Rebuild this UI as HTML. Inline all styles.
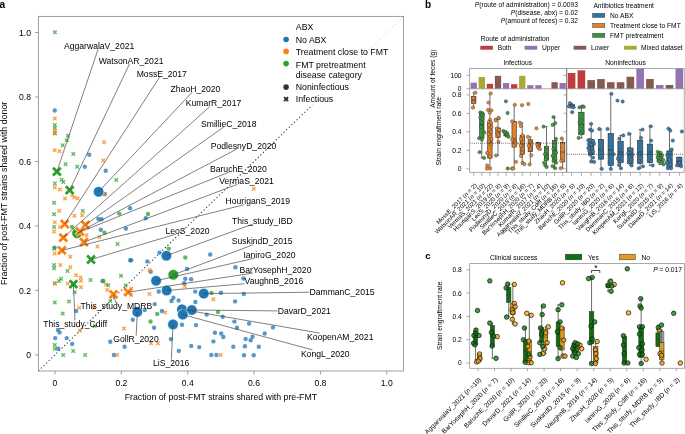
<!DOCTYPE html>
<html><head><meta charset="utf-8"><style>
html,body{margin:0;padding:0;background:#fff;width:685px;height:434px;overflow:hidden}
svg{display:block;font-family:"Liberation Sans", sans-serif}
svg{will-change:transform}
</style></head><body>
<svg width="685" height="434" viewBox="0 0 685 434">
<rect width="685" height="434" fill="#fff"/>
<text x="-0.60" y="7.50" font-size="10.1" text-anchor="start" font-weight="bold" fill="#000" >a</text>
<line x1="38.40" y1="371.00" x2="403.40" y2="16.40" stroke="#2a2a2a" stroke-width="1.05" stroke-dasharray="1.2 2.4"/>
<path d="M53.15,30.55L56.65,34.05M53.15,34.05L56.65,30.55" stroke="#2ca02c" stroke-width="1.35" stroke-opacity="0.75" fill="none"/>
<circle cx="54.80" cy="110.50" r="2.2" fill="#1f77b4" fill-opacity="0.75"/>
<path d="M53.05,116.65L56.55,120.15M53.05,120.15L56.55,116.65" stroke="#ff7f0e" stroke-width="1.35" stroke-opacity="0.75" fill="none"/>
<path d="M53.05,123.15L56.55,126.65M53.05,126.65L56.55,123.15" stroke="#2ca02c" stroke-width="1.35" stroke-opacity="0.75" fill="none"/>
<path d="M53.05,126.35L56.55,129.85M53.05,129.85L56.55,126.35" stroke="#2ca02c" stroke-width="1.35" stroke-opacity="0.75" fill="none"/>
<path d="M53.05,128.85L56.55,132.35M53.05,132.35L56.55,128.85" stroke="#ff7f0e" stroke-width="1.35" stroke-opacity="0.75" fill="none"/>
<path d="M53.05,131.75L56.55,135.25M53.05,135.25L56.55,131.75" stroke="#2ca02c" stroke-width="1.35" stroke-opacity="0.75" fill="none"/>
<path d="M53.05,131.05L56.55,134.55M53.05,134.55L56.55,131.05" stroke="#ff7f0e" stroke-width="1.35" stroke-opacity="0.75" fill="none"/>
<path d="M66.25,133.95L69.75,137.45M66.25,137.45L69.75,133.95" stroke="#2ca02c" stroke-width="1.35" stroke-opacity="0.75" fill="none"/>
<path d="M65.05,138.55L68.55,142.05M65.05,142.05L68.55,138.55" stroke="#2ca02c" stroke-width="1.35" stroke-opacity="0.75" fill="none"/>
<path d="M60.95,143.45L64.45,146.95M60.95,146.95L64.45,143.45" stroke="#2ca02c" stroke-width="1.35" stroke-opacity="0.75" fill="none"/>
<path d="M52.85,148.45L56.35,151.95M52.85,151.95L56.35,148.45" stroke="#ff7f0e" stroke-width="1.35" stroke-opacity="0.75" fill="none"/>
<path d="M57.65,149.45L61.15,152.95M57.65,152.95L61.15,149.45" stroke="#ff7f0e" stroke-width="1.35" stroke-opacity="0.75" fill="none"/>
<path d="M71.55,152.15L75.05,155.65M71.55,155.65L75.05,152.15" stroke="#2ca02c" stroke-width="1.35" stroke-opacity="0.75" fill="none"/>
<circle cx="89.20" cy="154.80" r="2.2" fill="#1f77b4" fill-opacity="0.75"/>
<path d="M102.35,140.45L105.85,143.95M102.35,143.95L105.85,140.45" stroke="#ff7f0e" stroke-width="1.35" stroke-opacity="0.75" fill="none"/>
<path d="M101.45,158.65L104.95,162.15M101.45,162.15L104.95,158.65" stroke="#ff7f0e" stroke-width="1.35" stroke-opacity="0.75" fill="none"/>
<path d="M63.85,162.55L67.35,166.05M63.85,166.05L67.35,162.55" stroke="#2ca02c" stroke-width="1.35" stroke-opacity="0.75" fill="none"/>
<path d="M75.45,165.05L78.95,168.55M75.45,168.55L78.95,165.05" stroke="#2ca02c" stroke-width="1.35" stroke-opacity="0.75" fill="none"/>
<circle cx="84.80" cy="166.80" r="2.2" fill="#1f77b4" fill-opacity="0.75"/>
<circle cx="105.70" cy="170.70" r="2.2" fill="#1f77b4" fill-opacity="0.75"/>
<path d="M114.55,178.25L118.05,181.75M114.55,181.75L118.05,178.25" stroke="#2ca02c" stroke-width="1.35" stroke-opacity="0.75" fill="none"/>
<path d="M59.95,177.95L63.45,181.45M59.95,181.45L63.45,177.95" stroke="#2ca02c" stroke-width="1.35" stroke-opacity="0.75" fill="none"/>
<path d="M61.55,180.25L65.05,183.75M61.55,183.75L65.05,180.25" stroke="#2ca02c" stroke-width="1.35" stroke-opacity="0.75" fill="none"/>
<path d="M53.05,181.65L56.55,185.15M53.05,185.15L56.55,181.65" stroke="#2ca02c" stroke-width="1.35" stroke-opacity="0.75" fill="none"/>
<path d="M53.05,185.85L56.55,189.35M53.05,189.35L56.55,185.85" stroke="#ff7f0e" stroke-width="1.35" stroke-opacity="0.75" fill="none"/>
<path d="M58.15,187.65L61.65,191.15M58.15,191.15L61.65,187.65" stroke="#ff7f0e" stroke-width="1.35" stroke-opacity="0.75" fill="none"/>
<path d="M63.25,196.85L66.75,200.35M63.25,200.35L66.75,196.85" stroke="#ff7f0e" stroke-width="1.35" stroke-opacity="0.75" fill="none"/>
<path d="M72.45,195.45L75.95,198.95M72.45,198.95L75.95,195.45" stroke="#ff7f0e" stroke-width="1.35" stroke-opacity="0.75" fill="none"/>
<path d="M75.85,196.85L79.35,200.35M75.85,200.35L79.35,196.85" stroke="#ff7f0e" stroke-width="1.35" stroke-opacity="0.75" fill="none"/>
<path d="M70.35,193.25L73.85,196.75M70.35,196.75L73.85,193.25" stroke="#ff7f0e" stroke-width="1.35" stroke-opacity="0.75" fill="none"/>
<circle cx="104.80" cy="194.00" r="2.2" fill="#1f77b4" fill-opacity="0.75"/>
<path d="M102.65,192.55L106.15,196.05M102.65,196.05L106.15,192.55" stroke="#ff7f0e" stroke-width="1.35" stroke-opacity="0.75" fill="none"/>
<path d="M81.05,209.35L84.55,212.85M81.05,212.85L84.55,209.35" stroke="#2ca02c" stroke-width="1.35" stroke-opacity="0.75" fill="none"/>
<path d="M80.45,213.55L83.95,217.05M80.45,217.05L83.95,213.55" stroke="#ff7f0e" stroke-width="1.35" stroke-opacity="0.75" fill="none"/>
<circle cx="130.10" cy="208.30" r="2.2" fill="#1f77b4" fill-opacity="0.75"/>
<circle cx="119.30" cy="213.60" r="2.2" fill="#2ca02c" fill-opacity="0.75"/>
<circle cx="148.00" cy="214.00" r="2.2" fill="#2ca02c" fill-opacity="0.75"/>
<circle cx="145.80" cy="218.20" r="2.2" fill="#1f77b4" fill-opacity="0.75"/>
<circle cx="98.40" cy="219.00" r="2.2" fill="#1f77b4" fill-opacity="0.75"/>
<circle cx="101.60" cy="219.20" r="2.2" fill="#1f77b4" fill-opacity="0.75"/>
<circle cx="100.80" cy="229.70" r="2.2" fill="#1f77b4" fill-opacity="0.75"/>
<circle cx="104.50" cy="232.80" r="2.2" fill="#2ca02c" fill-opacity="0.75"/>
<circle cx="125.90" cy="228.60" r="2.2" fill="#1f77b4" fill-opacity="0.75"/>
<path d="M97.75,235.15L101.25,238.65M97.75,238.65L101.25,235.15" stroke="#ff7f0e" stroke-width="1.35" stroke-opacity="0.75" fill="none"/>
<path d="M84.75,233.45L88.25,236.95M84.75,236.95L88.25,233.45" stroke="#ff7f0e" stroke-width="1.35" stroke-opacity="0.75" fill="none"/>
<path d="M52.35,200.95L55.85,204.45M52.35,204.45L55.85,200.95" stroke="#2ca02c" stroke-width="1.35" stroke-opacity="0.75" fill="none"/>
<path d="M57.45,208.95L60.95,212.45M57.45,212.45L60.95,208.95" stroke="#ff7f0e" stroke-width="1.35" stroke-opacity="0.75" fill="none"/>
<path d="M72.65,214.05L76.15,217.55M72.65,217.55L76.15,214.05" stroke="#ff7f0e" stroke-width="1.35" stroke-opacity="0.75" fill="none"/>
<path d="M52.35,212.45L55.85,215.95M52.35,215.95L55.85,212.45" stroke="#2ca02c" stroke-width="1.35" stroke-opacity="0.75" fill="none"/>
<path d="M53.05,220.55L56.55,224.05M53.05,224.05L56.55,220.55" stroke="#ff7f0e" stroke-width="1.35" stroke-opacity="0.75" fill="none"/>
<path d="M52.35,225.15L55.85,228.65M52.35,228.65L55.85,225.15" stroke="#2ca02c" stroke-width="1.35" stroke-opacity="0.75" fill="none"/>
<path d="M58.15,225.15L61.65,228.65M58.15,228.65L61.65,225.15" stroke="#ff7f0e" stroke-width="1.35" stroke-opacity="0.75" fill="none"/>
<path d="M52.35,229.75L55.85,233.25M52.35,233.25L55.85,229.75" stroke="#ff7f0e" stroke-width="1.35" stroke-opacity="0.75" fill="none"/>
<circle cx="72.10" cy="226.90" r="2.2" fill="#2ca02c" fill-opacity="0.75"/>
<circle cx="54.60" cy="247.60" r="2.2" fill="#1f77b4" fill-opacity="0.75"/>
<path d="M52.35,247.05L55.85,250.55M52.35,250.55L55.85,247.05" stroke="#2ca02c" stroke-width="1.35" stroke-opacity="0.75" fill="none"/>
<path d="M52.85,251.65L56.35,255.15M52.85,255.15L56.35,251.65" stroke="#ff7f0e" stroke-width="1.35" stroke-opacity="0.75" fill="none"/>
<path d="M68.55,255.05L72.05,258.55M68.55,258.55L72.05,255.05" stroke="#ff7f0e" stroke-width="1.35" stroke-opacity="0.75" fill="none"/>
<path d="M115.75,242.35L119.25,245.85M115.75,245.85L119.25,242.35" stroke="#2ca02c" stroke-width="1.35" stroke-opacity="0.75" fill="none"/>
<path d="M95.65,244.75L99.15,248.25M95.65,248.25L99.15,244.75" stroke="#ff7f0e" stroke-width="1.35" stroke-opacity="0.75" fill="none"/>
<circle cx="130.20" cy="260.30" r="2.2" fill="#1f77b4" fill-opacity="0.75"/>
<path d="M52.35,263.15L55.85,266.65M52.35,266.65L55.85,263.15" stroke="#2ca02c" stroke-width="1.35" stroke-opacity="0.75" fill="none"/>
<path d="M52.35,266.55L55.85,270.05M52.35,270.05L55.85,266.55" stroke="#2ca02c" stroke-width="1.35" stroke-opacity="0.75" fill="none"/>
<path d="M58.65,263.15L62.15,266.65M58.65,266.65L62.15,263.15" stroke="#ff7f0e" stroke-width="1.35" stroke-opacity="0.75" fill="none"/>
<path d="M65.75,269.35L69.25,272.85M65.75,272.85L69.25,269.35" stroke="#2ca02c" stroke-width="1.35" stroke-opacity="0.75" fill="none"/>
<path d="M68.55,265.45L72.05,268.95M68.55,268.95L72.05,265.45" stroke="#ff7f0e" stroke-width="1.35" stroke-opacity="0.75" fill="none"/>
<path d="M53.05,281.55L56.55,285.05M53.05,285.05L56.55,281.55" stroke="#2ca02c" stroke-width="1.35" stroke-opacity="0.75" fill="none"/>
<path d="M59.25,276.95L62.75,280.45M59.25,280.45L62.75,276.95" stroke="#2ca02c" stroke-width="1.35" stroke-opacity="0.75" fill="none"/>
<path d="M74.25,273.55L77.75,277.05M74.25,277.05L77.75,273.55" stroke="#ff7f0e" stroke-width="1.35" stroke-opacity="0.75" fill="none"/>
<path d="M78.85,275.85L82.35,279.35M78.85,279.35L82.35,275.85" stroke="#ff7f0e" stroke-width="1.35" stroke-opacity="0.75" fill="none"/>
<path d="M88.75,278.15L92.25,281.65M88.75,281.65L92.25,278.15" stroke="#2ca02c" stroke-width="1.35" stroke-opacity="0.75" fill="none"/>
<circle cx="102.50" cy="281.00" r="2.2" fill="#1f77b4" fill-opacity="0.75"/>
<path d="M104.25,282.75L107.75,286.25M104.25,286.25L107.75,282.75" stroke="#ff7f0e" stroke-width="1.35" stroke-opacity="0.75" fill="none"/>
<path d="M119.25,273.95L122.75,277.45M119.25,277.45L122.75,273.95" stroke="#2ca02c" stroke-width="1.35" stroke-opacity="0.75" fill="none"/>
<path d="M123.85,283.85L127.35,287.35M123.85,287.35L127.35,283.85" stroke="#2ca02c" stroke-width="1.35" stroke-opacity="0.75" fill="none"/>
<path d="M53.05,281.85L56.55,285.35M53.05,285.35L56.55,281.85" stroke="#ff7f0e" stroke-width="1.35" stroke-opacity="0.75" fill="none"/>
<path d="M57.25,279.25L60.75,282.75M57.25,282.75L60.75,279.25" stroke="#2ca02c" stroke-width="1.35" stroke-opacity="0.75" fill="none"/>
<path d="M66.05,281.85L69.55,285.35M66.05,285.35L69.55,281.85" stroke="#ff7f0e" stroke-width="1.35" stroke-opacity="0.75" fill="none"/>
<path d="M79.25,279.25L82.75,282.75M79.25,282.75L82.75,279.25" stroke="#ff7f0e" stroke-width="1.35" stroke-opacity="0.75" fill="none"/>
<path d="M79.25,285.55L82.75,289.05M79.25,289.05L82.75,285.55" stroke="#ff7f0e" stroke-width="1.35" stroke-opacity="0.75" fill="none"/>
<circle cx="103.40" cy="281.00" r="2.2" fill="#2ca02c" fill-opacity="0.75"/>
<path d="M106.45,283.45L109.95,286.95M106.45,286.95L109.95,283.45" stroke="#2ca02c" stroke-width="1.35" stroke-opacity="0.75" fill="none"/>
<path d="M105.45,288.25L108.95,291.75M105.45,291.75L108.95,288.25" stroke="#ff7f0e" stroke-width="1.35" stroke-opacity="0.75" fill="none"/>
<path d="M53.05,300.65L56.55,304.15M53.05,304.15L56.55,300.65" stroke="#2ca02c" stroke-width="1.35" stroke-opacity="0.75" fill="none"/>
<path d="M67.25,299.65L70.75,303.15M67.25,303.15L70.75,299.65" stroke="#2ca02c" stroke-width="1.35" stroke-opacity="0.75" fill="none"/>
<path d="M72.95,290.45L76.45,293.95M72.95,293.95L76.45,290.45" stroke="#2ca02c" stroke-width="1.35" stroke-opacity="0.75" fill="none"/>
<path d="M60.95,311.75L64.45,315.25M60.95,315.25L64.45,311.75" stroke="#2ca02c" stroke-width="1.35" stroke-opacity="0.75" fill="none"/>
<circle cx="76.20" cy="311.00" r="2.2" fill="#1f77b4" fill-opacity="0.75"/>
<path d="M77.35,305.95L80.85,309.45M77.35,309.45L80.85,305.95" stroke="#ff7f0e" stroke-width="1.35" stroke-opacity="0.75" fill="none"/>
<path d="M91.85,305.95L95.35,309.45M91.85,309.45L95.35,305.95" stroke="#ff7f0e" stroke-width="1.35" stroke-opacity="0.75" fill="none"/>
<path d="M108.55,299.25L112.05,302.75M108.55,302.75L112.05,299.25" stroke="#2ca02c" stroke-width="1.35" stroke-opacity="0.75" fill="none"/>
<circle cx="132.80" cy="319.80" r="2.2" fill="#1f77b4" fill-opacity="0.75"/>
<path d="M122.25,326.85L125.75,330.35M122.25,330.35L125.75,326.85" stroke="#ff7f0e" stroke-width="1.35" stroke-opacity="0.75" fill="none"/>
<circle cx="57.90" cy="329.90" r="2.2" fill="#1f77b4" fill-opacity="0.75"/>
<circle cx="59.60" cy="332.40" r="2.2" fill="#1f77b4" fill-opacity="0.75"/>
<path d="M78.15,328.95L81.65,332.45M78.15,332.45L81.65,328.95" stroke="#ff7f0e" stroke-width="1.35" stroke-opacity="0.75" fill="none"/>
<path d="M92.85,324.35L96.35,327.85M92.85,327.85L96.35,324.35" stroke="#2ca02c" stroke-width="1.35" stroke-opacity="0.75" fill="none"/>
<circle cx="55.20" cy="338.10" r="2.2" fill="#1f77b4" fill-opacity="0.75"/>
<circle cx="66.70" cy="338.10" r="2.2" fill="#1f77b4" fill-opacity="0.75"/>
<circle cx="72.20" cy="343.90" r="2.2" fill="#1f77b4" fill-opacity="0.75"/>
<path d="M53.05,343.25L56.55,346.75M53.05,346.75L56.55,343.25" stroke="#2ca02c" stroke-width="1.35" stroke-opacity="0.75" fill="none"/>
<path d="M53.05,347.05L56.55,350.55M53.05,350.55L56.55,347.05" stroke="#2ca02c" stroke-width="1.35" stroke-opacity="0.75" fill="none"/>
<circle cx="58.30" cy="348.80" r="2.2" fill="#1f77b4" fill-opacity="0.75"/>
<circle cx="110.30" cy="341.80" r="2.2" fill="#1f77b4" fill-opacity="0.75"/>
<circle cx="124.60" cy="346.70" r="2.2" fill="#1f77b4" fill-opacity="0.75"/>
<path d="M71.45,349.15L74.95,352.65M71.45,352.65L74.95,349.15" stroke="#2ca02c" stroke-width="1.35" stroke-opacity="0.75" fill="none"/>
<path d="M61.45,353.25L64.95,356.75M61.45,356.75L64.95,353.25" stroke="#2ca02c" stroke-width="1.35" stroke-opacity="0.75" fill="none"/>
<path d="M83.45,353.25L86.95,356.75M83.45,356.75L86.95,353.25" stroke="#2ca02c" stroke-width="1.35" stroke-opacity="0.75" fill="none"/>
<circle cx="113.90" cy="355.00" r="2.2" fill="#1f77b4" fill-opacity="0.75"/>
<path d="M115.45,353.25L118.95,356.75M115.45,356.75L118.95,353.25" stroke="#ff7f0e" stroke-width="1.35" stroke-opacity="0.75" fill="none"/>
<circle cx="168.70" cy="248.80" r="2.2" fill="#2ca02c" fill-opacity="0.75"/>
<circle cx="159.50" cy="252.70" r="2.2" fill="#1f77b4" fill-opacity="0.75"/>
<circle cx="147.30" cy="261.40" r="2.2" fill="#1f77b4" fill-opacity="0.75"/>
<circle cx="131.20" cy="260.30" r="2.2" fill="#1f77b4" fill-opacity="0.75"/>
<circle cx="185.30" cy="257.50" r="2.2" fill="#2ca02c" fill-opacity="0.75"/>
<circle cx="210.20" cy="254.50" r="2.2" fill="#1f77b4" fill-opacity="0.75"/>
<circle cx="150.70" cy="271.80" r="2.2" fill="#1f77b4" fill-opacity="0.75"/>
<path d="M147.85,268.45L151.35,271.95M147.85,271.95L151.35,268.45" stroke="#ff7f0e" stroke-width="1.35" stroke-opacity="0.75" fill="none"/>
<circle cx="187.10" cy="269.00" r="2.2" fill="#1f77b4" fill-opacity="0.75"/>
<circle cx="185.30" cy="278.70" r="2.2" fill="#1f77b4" fill-opacity="0.75"/>
<circle cx="191.10" cy="279.20" r="2.2" fill="#1f77b4" fill-opacity="0.75"/>
<circle cx="184.10" cy="283.30" r="2.2" fill="#1f77b4" fill-opacity="0.75"/>
<path d="M183.05,284.55L186.55,288.05M183.05,288.05L186.55,284.55" stroke="#ff7f0e" stroke-width="1.35" stroke-opacity="0.75" fill="none"/>
<path d="M129.45,286.85L132.95,290.35M129.45,290.35L132.95,286.85" stroke="#ff7f0e" stroke-width="1.35" stroke-opacity="0.75" fill="none"/>
<circle cx="235.40" cy="267.30" r="2.2" fill="#1f77b4" fill-opacity="0.75"/>
<circle cx="243.50" cy="278.50" r="2.2" fill="#1f77b4" fill-opacity="0.75"/>
<circle cx="211.50" cy="293.00" r="2.2" fill="#2ca02c" fill-opacity="0.75"/>
<circle cx="195.20" cy="291.60" r="2.2" fill="#1f77b4" fill-opacity="0.75"/>
<circle cx="220.90" cy="292.70" r="2.2" fill="#1f77b4" fill-opacity="0.75"/>
<circle cx="243.80" cy="293.90" r="2.2" fill="#1f77b4" fill-opacity="0.75"/>
<path d="M129.25,292.95L132.75,296.45M129.25,296.45L132.75,292.95" stroke="#ff7f0e" stroke-width="1.35" stroke-opacity="0.75" fill="none"/>
<path d="M147.75,292.25L151.25,295.75M147.75,295.75L151.25,292.25" stroke="#ff7f0e" stroke-width="1.35" stroke-opacity="0.75" fill="none"/>
<circle cx="158.70" cy="291.50" r="2.2" fill="#1f77b4" fill-opacity="0.75"/>
<circle cx="173.40" cy="297.80" r="2.2" fill="#1f77b4" fill-opacity="0.75"/>
<circle cx="171.50" cy="301.00" r="2.2" fill="#1f77b4" fill-opacity="0.75"/>
<circle cx="178.60" cy="300.50" r="2.2" fill="#1f77b4" fill-opacity="0.75"/>
<path d="M211.65,297.55L215.15,301.05M211.65,301.05L215.15,297.55" stroke="#ff7f0e" stroke-width="1.35" stroke-opacity="0.75" fill="none"/>
<circle cx="195.40" cy="302.00" r="2.2" fill="#1f77b4" fill-opacity="0.75"/>
<circle cx="154.70" cy="304.10" r="2.2" fill="#1f77b4" fill-opacity="0.75"/>
<circle cx="144.70" cy="310.00" r="2.2" fill="#1f77b4" fill-opacity="0.75"/>
<path d="M163.45,310.75L166.95,314.25M163.45,314.25L166.95,310.75" stroke="#ff7f0e" stroke-width="1.35" stroke-opacity="0.75" fill="none"/>
<circle cx="161.90" cy="311.00" r="2.2" fill="#1f77b4" fill-opacity="0.75"/>
<circle cx="157.30" cy="314.00" r="2.2" fill="#2ca02c" fill-opacity="0.75"/>
<circle cx="150.50" cy="321.50" r="2.2" fill="#2ca02c" fill-opacity="0.75"/>
<circle cx="154.10" cy="327.80" r="2.2" fill="#1f77b4" fill-opacity="0.75"/>
<circle cx="182.00" cy="324.70" r="2.2" fill="#1f77b4" fill-opacity="0.75"/>
<circle cx="196.00" cy="325.10" r="2.2" fill="#1f77b4" fill-opacity="0.75"/>
<circle cx="206.70" cy="314.60" r="2.2" fill="#1f77b4" fill-opacity="0.75"/>
<circle cx="218.00" cy="311.90" r="2.2" fill="#2ca02c" fill-opacity="0.75"/>
<circle cx="222.70" cy="316.70" r="2.2" fill="#1f77b4" fill-opacity="0.75"/>
<circle cx="170.90" cy="339.10" r="2.2" fill="#1f77b4" fill-opacity="0.75"/>
<path d="M149.25,341.55L152.75,345.05M149.25,345.05L152.75,341.55" stroke="#ff7f0e" stroke-width="1.35" stroke-opacity="0.75" fill="none"/>
<path d="M156.15,341.55L159.65,345.05M156.15,345.05L159.65,341.55" stroke="#ff7f0e" stroke-width="1.35" stroke-opacity="0.75" fill="none"/>
<circle cx="191.20" cy="346.00" r="2.2" fill="#1f77b4" fill-opacity="0.75"/>
<circle cx="199.20" cy="347.10" r="2.2" fill="#1f77b4" fill-opacity="0.75"/>
<circle cx="178.80" cy="350.90" r="2.2" fill="#1f77b4" fill-opacity="0.75"/>
<circle cx="214.90" cy="332.80" r="2.2" fill="#1f77b4" fill-opacity="0.75"/>
<circle cx="221.20" cy="333.50" r="2.2" fill="#1f77b4" fill-opacity="0.75"/>
<circle cx="223.30" cy="337.00" r="2.2" fill="#1f77b4" fill-opacity="0.75"/>
<circle cx="213.40" cy="341.40" r="2.2" fill="#1f77b4" fill-opacity="0.75"/>
<circle cx="211.30" cy="355.00" r="2.2" fill="#1f77b4" fill-opacity="0.75"/>
<circle cx="216.40" cy="355.00" r="2.2" fill="#1f77b4" fill-opacity="0.75"/>
<path d="M218.85,353.25L222.35,356.75M218.85,356.75L222.35,353.25" stroke="#ff7f0e" stroke-width="1.35" stroke-opacity="0.75" fill="none"/>
<circle cx="235.10" cy="301.40" r="2.2" fill="#1f77b4" fill-opacity="0.75"/>
<circle cx="234.40" cy="321.60" r="2.2" fill="#1f77b4" fill-opacity="0.75"/>
<circle cx="237.00" cy="327.70" r="2.2" fill="#1f77b4" fill-opacity="0.75"/>
<circle cx="249.10" cy="323.50" r="2.2" fill="#1f77b4" fill-opacity="0.75"/>
<circle cx="273.00" cy="327.40" r="2.2" fill="#1f77b4" fill-opacity="0.75"/>
<circle cx="245.60" cy="339.00" r="2.2" fill="#1f77b4" fill-opacity="0.75"/>
<circle cx="250.70" cy="340.20" r="2.2" fill="#1f77b4" fill-opacity="0.75"/>
<circle cx="252.60" cy="336.70" r="2.2" fill="#1f77b4" fill-opacity="0.75"/>
<circle cx="264.70" cy="333.50" r="2.2" fill="#1f77b4" fill-opacity="0.75"/>
<circle cx="233.30" cy="346.70" r="2.2" fill="#1f77b4" fill-opacity="0.75"/>
<circle cx="244.90" cy="346.30" r="2.2" fill="#1f77b4" fill-opacity="0.75"/>
<circle cx="258.80" cy="346.70" r="2.2" fill="#1f77b4" fill-opacity="0.75"/>
<circle cx="244.00" cy="355.30" r="2.2" fill="#1f77b4" fill-opacity="0.75"/>
<circle cx="253.70" cy="355.30" r="2.2" fill="#1f77b4" fill-opacity="0.75"/>
<path d="M252.05,186.95L255.55,190.45M252.05,190.45L255.55,186.95" stroke="#ff7f0e" stroke-width="1.35" stroke-opacity="0.75" fill="none"/>
<circle cx="77.1" cy="233.2" r="5.3" fill="#2ca02c" stroke="#fff" stroke-width="0.6"/>
<path d="M53.00,167.70L60.80,175.50M53.00,175.50L60.80,167.70" stroke="#fff" stroke-width="3.8" fill="none"/>
<path d="M53.00,167.70L60.80,175.50M53.00,175.50L60.80,167.70" stroke="#2ca02c" stroke-width="2.8" fill="none"/>
<path d="M65.80,186.20L73.60,194.00M65.80,194.00L73.60,186.20" stroke="#fff" stroke-width="3.8" fill="none"/>
<path d="M65.80,186.20L73.60,194.00M65.80,194.00L73.60,186.20" stroke="#2ca02c" stroke-width="2.8" fill="none"/>
<circle cx="98.6" cy="191.8" r="5.3" fill="#1f77b4" stroke="#fff" stroke-width="0.6"/>
<path d="M60.80,220.10L68.60,227.90M60.80,227.90L68.60,220.10" stroke="#fff" stroke-width="3.8" fill="none"/>
<path d="M60.80,220.10L68.60,227.90M60.80,227.90L68.60,220.10" stroke="#ff7f0e" stroke-width="2.8" fill="none"/>
<path d="M81.50,221.00L89.30,228.80M81.50,228.80L89.30,221.00" stroke="#fff" stroke-width="3.8" fill="none"/>
<path d="M81.50,221.00L89.30,228.80M81.50,228.80L89.30,221.00" stroke="#ff7f0e" stroke-width="2.8" fill="none"/>
<path d="M76.00,227.60L83.80,235.40M76.00,235.40L83.80,227.60" stroke="#fff" stroke-width="3.8" fill="none"/>
<path d="M76.00,227.60L83.80,235.40M76.00,235.40L83.80,227.60" stroke="#ff7f0e" stroke-width="2.8" fill="none"/>
<path d="M59.40,233.70L67.20,241.50M59.40,241.50L67.20,233.70" stroke="#fff" stroke-width="3.8" fill="none"/>
<path d="M59.40,233.70L67.20,241.50M59.40,241.50L67.20,233.70" stroke="#ff7f0e" stroke-width="2.8" fill="none"/>
<path d="M80.10,238.20L87.90,246.00M80.10,246.00L87.90,238.20" stroke="#fff" stroke-width="3.8" fill="none"/>
<path d="M80.10,238.20L87.90,246.00M80.10,246.00L87.90,238.20" stroke="#ff7f0e" stroke-width="2.8" fill="none"/>
<path d="M58.00,246.50L65.80,254.30M58.00,254.30L65.80,246.50" stroke="#fff" stroke-width="3.8" fill="none"/>
<path d="M58.00,246.50L65.80,254.30M58.00,254.30L65.80,246.50" stroke="#ff7f0e" stroke-width="2.8" fill="none"/>
<path d="M87.10,255.60L94.90,263.40M87.10,263.40L94.90,255.60" stroke="#fff" stroke-width="3.8" fill="none"/>
<path d="M87.10,255.60L94.90,263.40M87.10,263.40L94.90,255.60" stroke="#2ca02c" stroke-width="2.8" fill="none"/>
<path d="M69.50,280.30L77.30,288.10M69.50,288.10L77.30,280.30" stroke="#fff" stroke-width="3.8" fill="none"/>
<path d="M69.50,280.30L77.30,288.10M69.50,288.10L77.30,280.30" stroke="#2ca02c" stroke-width="2.8" fill="none"/>
<path d="M109.60,290.40L117.40,298.20M109.60,298.20L117.40,290.40" stroke="#fff" stroke-width="3.8" fill="none"/>
<path d="M109.60,290.40L117.40,298.20M109.60,298.20L117.40,290.40" stroke="#ff7f0e" stroke-width="2.8" fill="none"/>
<path d="M124.20,288.30L132.00,296.10M124.20,296.10L132.00,288.30" stroke="#fff" stroke-width="3.8" fill="none"/>
<path d="M124.20,288.30L132.00,296.10M124.20,296.10L132.00,288.30" stroke="#ff7f0e" stroke-width="2.8" fill="none"/>
<circle cx="173.3" cy="274.8" r="5.3" fill="#2ca02c" stroke="#fff" stroke-width="0.6"/>
<circle cx="166.4" cy="255.7" r="5.3" fill="#1f77b4" stroke="#fff" stroke-width="0.6"/>
<circle cx="156.1" cy="280.8" r="5.3" fill="#1f77b4" stroke="#fff" stroke-width="0.6"/>
<circle cx="166.7" cy="290.5" r="5.3" fill="#1f77b4" stroke="#fff" stroke-width="0.6"/>
<circle cx="203.8" cy="293.6" r="5.3" fill="#1f77b4" stroke="#fff" stroke-width="0.6"/>
<circle cx="137.3" cy="311.9" r="5.3" fill="#1f77b4" stroke="#fff" stroke-width="0.6"/>
<circle cx="182.0" cy="309.4" r="5.3" fill="#1f77b4" stroke="#fff" stroke-width="0.6"/>
<circle cx="191.8" cy="310.0" r="5.3" fill="#1f77b4" stroke="#fff" stroke-width="0.6"/>
<circle cx="182.8" cy="314.6" r="5.3" fill="#1f77b4" stroke="#fff" stroke-width="0.6"/>
<circle cx="173.0" cy="324.4" r="5.3" fill="#1f77b4" stroke="#fff" stroke-width="0.6"/>
<line x1="97.96" y1="49.50" x2="56.90" y2="171.60" stroke="#444" stroke-width="0.68" />
<line x1="129.49" y1="63.90" x2="69.70" y2="190.10" stroke="#444" stroke-width="0.68" />
<line x1="159.54" y1="77.20" x2="64.70" y2="224.00" stroke="#444" stroke-width="0.68" />
<line x1="192.18" y1="92.10" x2="98.60" y2="191.80" stroke="#444" stroke-width="0.68" />
<line x1="209.61" y1="106.80" x2="63.30" y2="237.60" stroke="#444" stroke-width="0.68" />
<line x1="223.78" y1="127.00" x2="85.40" y2="224.90" stroke="#444" stroke-width="0.68" />
<line x1="236.89" y1="149.00" x2="79.90" y2="231.50" stroke="#444" stroke-width="0.68" />
<line x1="229.73" y1="171.90" x2="77.10" y2="233.20" stroke="#444" stroke-width="0.68" />
<line x1="237.26" y1="184.40" x2="84.00" y2="242.10" stroke="#444" stroke-width="0.68" />
<line x1="243.90" y1="204.80" x2="61.90" y2="250.40" stroke="#444" stroke-width="0.68" />
<line x1="252.78" y1="224.10" x2="166.40" y2="255.70" stroke="#444" stroke-width="0.68" />
<line x1="175.77" y1="234.20" x2="91.00" y2="259.50" stroke="#444" stroke-width="0.68" />
<line x1="252.87" y1="244.80" x2="173.30" y2="274.80" stroke="#444" stroke-width="0.68" />
<line x1="254.20" y1="258.30" x2="156.10" y2="280.80" stroke="#444" stroke-width="0.68" />
<line x1="252.71" y1="273.10" x2="128.10" y2="292.20" stroke="#444" stroke-width="0.68" />
<line x1="244.40" y1="283.76" x2="166.70" y2="290.50" stroke="#444" stroke-width="0.68" />
<line x1="309.30" y1="292.23" x2="203.80" y2="293.60" stroke="#444" stroke-width="0.68" />
<line x1="115.55" y1="302.30" x2="113.50" y2="294.30" stroke="#444" stroke-width="0.68" />
<line x1="277.50" y1="310.91" x2="191.80" y2="310.00" stroke="#444" stroke-width="0.68" />
<line x1="74.99" y1="320.50" x2="73.40" y2="284.20" stroke="#444" stroke-width="0.68" />
<line x1="319.87" y1="333.10" x2="182.00" y2="309.40" stroke="#444" stroke-width="0.68" />
<line x1="136.17" y1="335.80" x2="137.30" y2="311.90" stroke="#444" stroke-width="0.68" />
<line x1="312.44" y1="349.90" x2="182.80" y2="314.60" stroke="#444" stroke-width="0.68" />
<line x1="171.34" y1="359.70" x2="173.00" y2="324.40" stroke="#444" stroke-width="0.68" />
<text x="64.00" y="49.10" font-size="8.6" text-anchor="start" fill="#000" >AggarwalaV_2021</text>
<text x="98.80" y="63.50" font-size="8.6" text-anchor="start" fill="#000" >WatsonAR_2021</text>
<text x="136.70" y="76.80" font-size="8.6" text-anchor="start" fill="#000" >MossE_2017</text>
<text x="170.60" y="91.70" font-size="8.6" text-anchor="start" fill="#000" >ZhaoH_2020</text>
<text x="185.80" y="106.40" font-size="8.6" text-anchor="start" fill="#000" >KumarR_2017</text>
<text x="201.00" y="126.60" font-size="8.6" text-anchor="start" fill="#000" >SmillieC_2018</text>
<text x="210.80" y="148.60" font-size="8.6" text-anchor="start" fill="#000" >PodlesnyD_2020</text>
<text x="210.00" y="171.50" font-size="8.6" text-anchor="start" fill="#000" >BaruchE_2020</text>
<text x="219.30" y="184.00" font-size="8.6" text-anchor="start" fill="#000" >VermaS_2021</text>
<text x="225.60" y="204.40" font-size="8.6" text-anchor="start" fill="#000" >HouriganS_2019</text>
<text x="232.00" y="223.70" font-size="8.6" text-anchor="start" fill="#000" >This_study_IBD</text>
<text x="165.50" y="233.80" font-size="8.6" text-anchor="start" fill="#000" >LeoS_2020</text>
<text x="231.80" y="244.40" font-size="8.6" text-anchor="start" fill="#000" >SuskindD_2015</text>
<text x="243.40" y="257.90" font-size="8.6" text-anchor="start" fill="#000" >IaniroG_2020</text>
<text x="239.60" y="272.70" font-size="8.6" text-anchor="start" fill="#000" >BarYosephH_2020</text>
<text x="244.60" y="284.30" font-size="8.6" text-anchor="start" fill="#000" >VaughnB_2016</text>
<text x="309.50" y="294.90" font-size="8.6" text-anchor="start" fill="#000" >DammanC_2015</text>
<text x="80.60" y="308.90" font-size="8.6" text-anchor="start" fill="#000" >This_study_MDRB</text>
<text x="277.70" y="314.30" font-size="8.6" text-anchor="start" fill="#000" >DavarD_2021</text>
<text x="43.20" y="327.10" font-size="8.6" text-anchor="start" fill="#000" >This_study_Cdiff</text>
<text x="307.00" y="339.70" font-size="8.6" text-anchor="start" fill="#000" >KoopenAM_2021</text>
<text x="113.30" y="342.40" font-size="8.6" text-anchor="start" fill="#000" >GollR_2020</text>
<text x="300.90" y="356.50" font-size="8.6" text-anchor="start" fill="#000" >KongL_2020</text>
<text x="153.00" y="366.30" font-size="8.6" text-anchor="start" fill="#000" >LiS_2016</text>
<rect x="38.4" y="16.4" width="365.0" height="354.6" fill="none" stroke="#959595" stroke-width="0.9"/>
<line x1="35.00" y1="354.90" x2="38.40" y2="354.90" stroke="#959595" stroke-width="0.9" />
<text x="31.00" y="358.00" font-size="8.6" text-anchor="end" fill="#000" >0</text>
<line x1="55.00" y1="371.00" x2="55.00" y2="374.50" stroke="#959595" stroke-width="0.9" />
<text x="55.00" y="385.90" font-size="8.6" text-anchor="middle" fill="#000" >0</text>
<line x1="35.00" y1="290.42" x2="38.40" y2="290.42" stroke="#959595" stroke-width="0.9" />
<text x="31.00" y="293.52" font-size="8.6" text-anchor="end" fill="#000" >0.2</text>
<line x1="121.36" y1="371.00" x2="121.36" y2="374.50" stroke="#959595" stroke-width="0.9" />
<text x="121.36" y="385.90" font-size="8.6" text-anchor="middle" fill="#000" >0.2</text>
<line x1="35.00" y1="225.94" x2="38.40" y2="225.94" stroke="#959595" stroke-width="0.9" />
<text x="31.00" y="229.04" font-size="8.6" text-anchor="end" fill="#000" >0.4</text>
<line x1="187.72" y1="371.00" x2="187.72" y2="374.50" stroke="#959595" stroke-width="0.9" />
<text x="187.72" y="385.90" font-size="8.6" text-anchor="middle" fill="#000" >0.4</text>
<line x1="35.00" y1="161.46" x2="38.40" y2="161.46" stroke="#959595" stroke-width="0.9" />
<text x="31.00" y="164.56" font-size="8.6" text-anchor="end" fill="#000" >0.6</text>
<line x1="254.08" y1="371.00" x2="254.08" y2="374.50" stroke="#959595" stroke-width="0.9" />
<text x="254.08" y="385.90" font-size="8.6" text-anchor="middle" fill="#000" >0.6</text>
<line x1="35.00" y1="96.98" x2="38.40" y2="96.98" stroke="#959595" stroke-width="0.9" />
<text x="31.00" y="100.08" font-size="8.6" text-anchor="end" fill="#000" >0.8</text>
<line x1="320.44" y1="371.00" x2="320.44" y2="374.50" stroke="#959595" stroke-width="0.9" />
<text x="320.44" y="385.90" font-size="8.6" text-anchor="middle" fill="#000" >0.8</text>
<line x1="35.00" y1="32.50" x2="38.40" y2="32.50" stroke="#959595" stroke-width="0.9" />
<text x="31.00" y="35.60" font-size="8.6" text-anchor="end" fill="#000" >1.0</text>
<line x1="386.80" y1="371.00" x2="386.80" y2="374.50" stroke="#959595" stroke-width="0.9" />
<text x="386.80" y="385.90" font-size="8.6" text-anchor="middle" fill="#000" >1.0</text>
<text x="220.90" y="400.00" font-size="8.75" text-anchor="middle" fill="#000" >Fraction of post-FMT strains shared with pre-FMT</text>
<text transform="translate(7.0,193.3) rotate(-90)" font-size="8.85" text-anchor="middle">Fraction of post-FMT strains shared with donor</text>
<rect x="279" y="17.2" width="123.8" height="89" fill="#fff" fill-opacity="0.85"/>
<text x="295.80" y="29.90" font-size="8.75" text-anchor="start" fill="#000" >ABX</text>
<circle cx="286.10" cy="39.50" r="2.8" fill="#1f77b4"/>
<text x="295.80" y="42.60" font-size="8.75" text-anchor="start" fill="#000" >No ABX</text>
<circle cx="286.10" cy="51.40" r="2.8" fill="#ff7f0e"/>
<text x="295.80" y="54.50" font-size="8.75" text-anchor="start" fill="#000" >Treatment close to FMT</text>
<circle cx="286.10" cy="63.60" r="2.8" fill="#2ca02c"/>
<text x="295.80" y="67.90" font-size="8.75" text-anchor="start" fill="#000" >FMT pretreatment</text>
<text x="295.80" y="78.10" font-size="8.75" text-anchor="start" fill="#000" >disease category</text>
<circle cx="286.10" cy="87.10" r="2.8" fill="#333"/>
<text x="295.80" y="90.20" font-size="8.75" text-anchor="start" fill="#000" >Noninfectious</text>
<path d="M284.10,97.10L288.10,101.10M284.10,101.10L288.10,97.10" stroke="#2a2a2a" stroke-width="1.9" fill="none"/>
<text x="295.80" y="102.20" font-size="8.75" text-anchor="start" fill="#000" >Infectious</text>
<text x="425.10" y="7.60" font-size="10.1" text-anchor="start" font-weight="bold" fill="#000" >b</text>
<text x="577.9" y="6.9" font-size="6.7" text-anchor="end"><tspan font-style="italic">P</tspan>(route of administration) = 0.0093</text>
<text x="577.9" y="15.3" font-size="6.7" text-anchor="end"><tspan font-style="italic">P</tspan>(disease, abx) = 0.02</text>
<text x="577.9" y="23.2" font-size="6.7" text-anchor="end"><tspan font-style="italic">P</tspan>(amount of feces) = 0.32</text>
<text x="593.40" y="7.50" font-size="6.7" text-anchor="start" fill="#000" >Antibiotics treatment</text>
<rect x="592.6" y="13.3" width="12.2" height="4.1" fill="#3274a1" stroke="#3f3f3f" stroke-width="0.5"/>
<text x="610.00" y="17.70" font-size="6.7" text-anchor="start" fill="#000" >No ABX</text>
<rect x="592.6" y="23.4" width="12.2" height="4.1" fill="#e1812c" stroke="#3f3f3f" stroke-width="0.5"/>
<text x="610.00" y="27.80" font-size="6.7" text-anchor="start" fill="#000" >Treatment close to FMT</text>
<rect x="592.6" y="33.3" width="12.2" height="4.1" fill="#3a923a" stroke="#3f3f3f" stroke-width="0.5"/>
<text x="610.00" y="37.70" font-size="6.7" text-anchor="start" fill="#000" >FMT pretreatment</text>
<text x="480.70" y="40.60" font-size="6.7" text-anchor="start" fill="#000" >Route of administration</text>
<rect x="480.3" y="45.8" width="12.6" height="3.9" fill="#c03d3e"/>
<text x="497.70" y="50.20" font-size="6.7" text-anchor="start" fill="#000" >Both</text>
<rect x="524.6" y="45.8" width="12.6" height="3.9" fill="#9372b2"/>
<text x="542.00" y="50.20" font-size="6.7" text-anchor="start" fill="#000" >Upper</text>
<rect x="573.6" y="45.8" width="12.6" height="3.9" fill="#845b53"/>
<text x="591.00" y="50.20" font-size="6.7" text-anchor="start" fill="#000" >Lower</text>
<rect x="624.1" y="45.8" width="12.6" height="3.9" fill="#a9aa35"/>
<text x="641.10" y="50.20" font-size="6.7" text-anchor="start" fill="#000" >Mixed dataset</text>
<text x="517.70" y="64.60" font-size="6.7" text-anchor="middle" fill="#000" >Infectious</text>
<text x="625.50" y="64.60" font-size="6.7" text-anchor="middle" fill="#000" >Noninfectious</text>
<g>
<rect x="470.59" y="82.7" width="6.3" height="6.10" fill="#9372b2"/>
<rect x="478.68" y="77.0" width="6.3" height="11.80" fill="#a9aa35"/>
<rect x="486.76" y="83.8" width="6.3" height="5.00" fill="#c03d3e"/>
<rect x="494.84" y="75.8" width="6.3" height="13.00" fill="#845b53"/>
<rect x="502.93" y="83.0" width="6.3" height="5.80" fill="#9372b2"/>
<rect x="511.01" y="84.2" width="6.3" height="4.60" fill="#c03d3e"/>
<rect x="519.09" y="75.8" width="6.3" height="13.00" fill="#a9aa35"/>
<rect x="527.18" y="85.2" width="6.3" height="3.60" fill="#9372b2"/>
<rect x="535.26" y="85.2" width="6.3" height="3.60" fill="#9372b2"/>
<rect x="551.43" y="82.2" width="6.3" height="6.60" fill="#845b53"/>
<rect x="559.51" y="83.0" width="6.3" height="5.80" fill="#9372b2"/>
<rect x="567.80" y="73.0" width="7.6" height="15.80" fill="#c03d3e"/>
<rect x="577.59" y="70.3" width="7.6" height="18.50" fill="#c03d3e"/>
<rect x="587.38" y="80.1" width="7.6" height="8.70" fill="#845b53"/>
<rect x="597.17" y="79.1" width="7.6" height="9.70" fill="#845b53"/>
<rect x="606.96" y="82.2" width="7.6" height="6.60" fill="#845b53"/>
<rect x="616.75" y="82.2" width="7.6" height="6.60" fill="#845b53"/>
<rect x="626.55" y="76.7" width="7.6" height="12.10" fill="#845b53"/>
<rect x="636.34" y="68.5" width="7.6" height="20.30" fill="#9372b2"/>
<rect x="646.13" y="79.0" width="7.6" height="9.80" fill="#845b53"/>
<rect x="655.92" y="85.0" width="7.6" height="3.80" fill="#9372b2"/>
<rect x="665.71" y="85.0" width="7.6" height="3.80" fill="#845b53"/>
<rect x="675.50" y="68.5" width="7.6" height="20.30" fill="#9372b2"/>
</g>
<line x1="473.74" y1="107.60" x2="473.74" y2="96.60" stroke="#2e2e2e" stroke-width="0.7" />
<line x1="473.74" y1="103.40" x2="473.74" y2="92.70" stroke="#2e2e2e" stroke-width="0.7" />
<line x1="472.64" y1="107.60" x2="474.84" y2="107.60" stroke="#2e2e2e" stroke-width="0.7" />
<line x1="472.64" y1="92.70" x2="474.84" y2="92.70" stroke="#2e2e2e" stroke-width="0.7" />
<rect x="471.54" y="96.6" width="4.4" height="6.80" fill="#e1812c" stroke="#2e2e2e" stroke-width="0.6"/>
<line x1="471.54" y1="100.20" x2="475.94" y2="100.20" stroke="#2e2e2e" stroke-width="0.6" />
<line x1="481.82" y1="157.90" x2="481.82" y2="113.20" stroke="#2e2e2e" stroke-width="0.7" />
<line x1="481.82" y1="138.20" x2="481.82" y2="112.40" stroke="#2e2e2e" stroke-width="0.7" />
<line x1="480.72" y1="157.90" x2="482.93" y2="157.90" stroke="#2e2e2e" stroke-width="0.7" />
<line x1="480.72" y1="112.40" x2="482.93" y2="112.40" stroke="#2e2e2e" stroke-width="0.7" />
<rect x="479.62" y="113.2" width="4.4" height="25.00" fill="#3a923a" stroke="#2e2e2e" stroke-width="0.6"/>
<line x1="479.62" y1="125.00" x2="484.02" y2="125.00" stroke="#2e2e2e" stroke-width="0.6" />
<line x1="489.91" y1="168.50" x2="489.91" y2="122.70" stroke="#2e2e2e" stroke-width="0.7" />
<line x1="489.91" y1="158.10" x2="489.91" y2="93.40" stroke="#2e2e2e" stroke-width="0.7" />
<line x1="488.81" y1="168.50" x2="491.01" y2="168.50" stroke="#2e2e2e" stroke-width="0.7" />
<line x1="488.81" y1="93.40" x2="491.01" y2="93.40" stroke="#2e2e2e" stroke-width="0.7" />
<rect x="487.71" y="122.7" width="4.4" height="35.40" fill="#e1812c" stroke="#2e2e2e" stroke-width="0.6"/>
<line x1="487.71" y1="141.00" x2="492.11" y2="141.00" stroke="#2e2e2e" stroke-width="0.6" />
<line x1="497.99" y1="155.50" x2="497.99" y2="127.90" stroke="#2e2e2e" stroke-width="0.7" />
<line x1="497.99" y1="137.50" x2="497.99" y2="118.00" stroke="#2e2e2e" stroke-width="0.7" />
<line x1="496.89" y1="155.50" x2="499.09" y2="155.50" stroke="#2e2e2e" stroke-width="0.7" />
<line x1="496.89" y1="118.00" x2="499.09" y2="118.00" stroke="#2e2e2e" stroke-width="0.7" />
<rect x="495.79" y="127.9" width="4.4" height="9.60" fill="#e1812c" stroke="#2e2e2e" stroke-width="0.6"/>
<line x1="495.79" y1="132.50" x2="500.19" y2="132.50" stroke="#2e2e2e" stroke-width="0.6" />
<line x1="506.07" y1="136.80" x2="506.07" y2="132.00" stroke="#2e2e2e" stroke-width="0.7" />
<line x1="506.07" y1="136.00" x2="506.07" y2="131.00" stroke="#2e2e2e" stroke-width="0.7" />
<line x1="504.97" y1="136.80" x2="507.18" y2="136.80" stroke="#2e2e2e" stroke-width="0.7" />
<line x1="504.97" y1="131.00" x2="507.18" y2="131.00" stroke="#2e2e2e" stroke-width="0.7" />
<rect x="503.88" y="132.0" width="4.4" height="4.00" fill="#3a923a" stroke="#2e2e2e" stroke-width="0.6"/>
<line x1="503.88" y1="134.00" x2="508.27" y2="134.00" stroke="#2e2e2e" stroke-width="0.6" />
<line x1="514.16" y1="168.50" x2="514.16" y2="121.30" stroke="#2e2e2e" stroke-width="0.7" />
<line x1="514.16" y1="147.10" x2="514.16" y2="104.80" stroke="#2e2e2e" stroke-width="0.7" />
<line x1="513.06" y1="168.50" x2="515.26" y2="168.50" stroke="#2e2e2e" stroke-width="0.7" />
<line x1="513.06" y1="104.80" x2="515.26" y2="104.80" stroke="#2e2e2e" stroke-width="0.7" />
<rect x="511.96" y="121.3" width="4.4" height="25.80" fill="#e1812c" stroke="#2e2e2e" stroke-width="0.6"/>
<line x1="511.96" y1="139.00" x2="516.36" y2="139.00" stroke="#2e2e2e" stroke-width="0.6" />
<line x1="522.24" y1="164.10" x2="522.24" y2="135.50" stroke="#2e2e2e" stroke-width="0.7" />
<line x1="522.24" y1="154.20" x2="522.24" y2="122.70" stroke="#2e2e2e" stroke-width="0.7" />
<line x1="521.14" y1="164.10" x2="523.34" y2="164.10" stroke="#2e2e2e" stroke-width="0.7" />
<line x1="521.14" y1="122.70" x2="523.34" y2="122.70" stroke="#2e2e2e" stroke-width="0.7" />
<rect x="520.04" y="135.5" width="4.4" height="18.70" fill="#e1812c" stroke="#2e2e2e" stroke-width="0.6"/>
<line x1="520.04" y1="145.00" x2="524.44" y2="145.00" stroke="#2e2e2e" stroke-width="0.6" />
<line x1="530.33" y1="164.40" x2="530.33" y2="139.70" stroke="#2e2e2e" stroke-width="0.7" />
<line x1="530.33" y1="151.70" x2="530.33" y2="136.80" stroke="#2e2e2e" stroke-width="0.7" />
<line x1="529.23" y1="164.40" x2="531.43" y2="164.40" stroke="#2e2e2e" stroke-width="0.7" />
<line x1="529.23" y1="136.80" x2="531.43" y2="136.80" stroke="#2e2e2e" stroke-width="0.7" />
<rect x="528.12" y="139.7" width="4.4" height="12.00" fill="#e1812c" stroke="#2e2e2e" stroke-width="0.6"/>
<line x1="528.12" y1="145.00" x2="532.53" y2="145.00" stroke="#2e2e2e" stroke-width="0.6" />
<line x1="538.41" y1="149.10" x2="538.41" y2="142.30" stroke="#2e2e2e" stroke-width="0.7" />
<line x1="538.41" y1="146.60" x2="538.41" y2="142.30" stroke="#2e2e2e" stroke-width="0.7" />
<line x1="537.31" y1="149.10" x2="539.51" y2="149.10" stroke="#2e2e2e" stroke-width="0.7" />
<line x1="537.31" y1="142.30" x2="539.51" y2="142.30" stroke="#2e2e2e" stroke-width="0.7" />
<rect x="536.21" y="142.3" width="4.4" height="4.30" fill="#e1812c" stroke="#2e2e2e" stroke-width="0.6"/>
<line x1="536.21" y1="144.50" x2="540.61" y2="144.50" stroke="#2e2e2e" stroke-width="0.6" />
<line x1="546.49" y1="167.00" x2="546.49" y2="146.60" stroke="#2e2e2e" stroke-width="0.7" />
<line x1="546.49" y1="160.20" x2="546.49" y2="126.60" stroke="#2e2e2e" stroke-width="0.7" />
<line x1="545.39" y1="167.00" x2="547.59" y2="167.00" stroke="#2e2e2e" stroke-width="0.7" />
<line x1="545.39" y1="126.60" x2="547.59" y2="126.60" stroke="#2e2e2e" stroke-width="0.7" />
<rect x="544.29" y="146.6" width="4.4" height="13.60" fill="#3a923a" stroke="#2e2e2e" stroke-width="0.6"/>
<line x1="544.29" y1="154.00" x2="548.69" y2="154.00" stroke="#2e2e2e" stroke-width="0.6" />
<line x1="554.58" y1="168.20" x2="554.58" y2="140.60" stroke="#2e2e2e" stroke-width="0.7" />
<line x1="554.58" y1="161.90" x2="554.58" y2="117.10" stroke="#2e2e2e" stroke-width="0.7" />
<line x1="553.48" y1="168.20" x2="555.68" y2="168.20" stroke="#2e2e2e" stroke-width="0.7" />
<line x1="553.48" y1="117.10" x2="555.68" y2="117.10" stroke="#2e2e2e" stroke-width="0.7" />
<rect x="552.38" y="140.6" width="4.4" height="21.30" fill="#3a923a" stroke="#2e2e2e" stroke-width="0.6"/>
<line x1="552.38" y1="150.00" x2="556.78" y2="150.00" stroke="#2e2e2e" stroke-width="0.6" />
<line x1="562.66" y1="168.20" x2="562.66" y2="142.30" stroke="#2e2e2e" stroke-width="0.7" />
<line x1="562.66" y1="161.90" x2="562.66" y2="138.50" stroke="#2e2e2e" stroke-width="0.7" />
<line x1="561.56" y1="168.20" x2="563.76" y2="168.20" stroke="#2e2e2e" stroke-width="0.7" />
<line x1="561.56" y1="138.50" x2="563.76" y2="138.50" stroke="#2e2e2e" stroke-width="0.7" />
<rect x="560.46" y="142.3" width="4.4" height="19.60" fill="#e1812c" stroke="#2e2e2e" stroke-width="0.6"/>
<line x1="560.46" y1="152.00" x2="564.86" y2="152.00" stroke="#2e2e2e" stroke-width="0.6" />
<line x1="571.60" y1="108.00" x2="571.60" y2="104.50" stroke="#2e2e2e" stroke-width="0.7" />
<line x1="571.60" y1="107.00" x2="571.60" y2="103.50" stroke="#2e2e2e" stroke-width="0.7" />
<line x1="570.25" y1="108.00" x2="572.95" y2="108.00" stroke="#2e2e2e" stroke-width="0.7" />
<line x1="570.25" y1="103.50" x2="572.95" y2="103.50" stroke="#2e2e2e" stroke-width="0.7" />
<rect x="568.90" y="104.5" width="5.4" height="2.50" fill="#3274a1" stroke="#2e2e2e" stroke-width="0.6"/>
<line x1="568.90" y1="106.00" x2="574.30" y2="106.00" stroke="#2e2e2e" stroke-width="0.6" />
<line x1="581.39" y1="137.90" x2="581.39" y2="112.20" stroke="#2e2e2e" stroke-width="0.7" />
<line x1="581.39" y1="134.40" x2="581.39" y2="106.40" stroke="#2e2e2e" stroke-width="0.7" />
<line x1="580.04" y1="137.90" x2="582.74" y2="137.90" stroke="#2e2e2e" stroke-width="0.7" />
<line x1="580.04" y1="106.40" x2="582.74" y2="106.40" stroke="#2e2e2e" stroke-width="0.7" />
<rect x="578.69" y="112.2" width="5.4" height="22.20" fill="#3a923a" stroke="#2e2e2e" stroke-width="0.6"/>
<line x1="578.69" y1="124.80" x2="584.09" y2="124.80" stroke="#2e2e2e" stroke-width="0.6" />
<line x1="591.18" y1="161.90" x2="591.18" y2="139.30" stroke="#2e2e2e" stroke-width="0.7" />
<line x1="591.18" y1="154.70" x2="591.18" y2="123.80" stroke="#2e2e2e" stroke-width="0.7" />
<line x1="589.83" y1="161.90" x2="592.53" y2="161.90" stroke="#2e2e2e" stroke-width="0.7" />
<line x1="589.83" y1="123.80" x2="592.53" y2="123.80" stroke="#2e2e2e" stroke-width="0.7" />
<rect x="588.48" y="139.3" width="5.4" height="15.40" fill="#3274a1" stroke="#2e2e2e" stroke-width="0.6"/>
<line x1="588.48" y1="146.00" x2="593.88" y2="146.00" stroke="#2e2e2e" stroke-width="0.6" />
<line x1="600.97" y1="168.90" x2="600.97" y2="139.30" stroke="#2e2e2e" stroke-width="0.7" />
<line x1="600.97" y1="159.20" x2="600.97" y2="129.00" stroke="#2e2e2e" stroke-width="0.7" />
<line x1="599.62" y1="168.90" x2="602.32" y2="168.90" stroke="#2e2e2e" stroke-width="0.7" />
<line x1="599.62" y1="129.00" x2="602.32" y2="129.00" stroke="#2e2e2e" stroke-width="0.7" />
<rect x="598.27" y="139.3" width="5.4" height="19.90" fill="#3274a1" stroke="#2e2e2e" stroke-width="0.6"/>
<line x1="598.27" y1="149.50" x2="603.67" y2="149.50" stroke="#2e2e2e" stroke-width="0.6" />
<line x1="610.76" y1="168.90" x2="610.76" y2="133.50" stroke="#2e2e2e" stroke-width="0.7" />
<line x1="610.76" y1="165.40" x2="610.76" y2="93.80" stroke="#2e2e2e" stroke-width="0.7" />
<line x1="609.41" y1="168.90" x2="612.11" y2="168.90" stroke="#2e2e2e" stroke-width="0.7" />
<line x1="609.41" y1="93.80" x2="612.11" y2="93.80" stroke="#2e2e2e" stroke-width="0.7" />
<rect x="608.06" y="133.5" width="5.4" height="31.90" fill="#3274a1" stroke="#2e2e2e" stroke-width="0.6"/>
<line x1="608.06" y1="150.00" x2="613.46" y2="150.00" stroke="#2e2e2e" stroke-width="0.6" />
<line x1="620.55" y1="168.30" x2="620.55" y2="141.20" stroke="#2e2e2e" stroke-width="0.7" />
<line x1="620.55" y1="162.50" x2="620.55" y2="135.40" stroke="#2e2e2e" stroke-width="0.7" />
<line x1="619.20" y1="168.30" x2="621.90" y2="168.30" stroke="#2e2e2e" stroke-width="0.7" />
<line x1="619.20" y1="135.40" x2="621.90" y2="135.40" stroke="#2e2e2e" stroke-width="0.7" />
<rect x="617.85" y="141.2" width="5.4" height="21.30" fill="#3274a1" stroke="#2e2e2e" stroke-width="0.6"/>
<line x1="617.85" y1="152.00" x2="623.25" y2="152.00" stroke="#2e2e2e" stroke-width="0.6" />
<line x1="630.35" y1="165.40" x2="630.35" y2="148.00" stroke="#2e2e2e" stroke-width="0.7" />
<line x1="630.35" y1="163.40" x2="630.35" y2="133.80" stroke="#2e2e2e" stroke-width="0.7" />
<line x1="629.00" y1="165.40" x2="631.70" y2="165.40" stroke="#2e2e2e" stroke-width="0.7" />
<line x1="629.00" y1="133.80" x2="631.70" y2="133.80" stroke="#2e2e2e" stroke-width="0.7" />
<rect x="627.65" y="148.0" width="5.4" height="15.40" fill="#3274a1" stroke="#2e2e2e" stroke-width="0.6"/>
<line x1="627.65" y1="155.50" x2="633.05" y2="155.50" stroke="#2e2e2e" stroke-width="0.6" />
<line x1="640.14" y1="168.30" x2="640.14" y2="140.20" stroke="#2e2e2e" stroke-width="0.7" />
<line x1="640.14" y1="163.40" x2="640.14" y2="129.60" stroke="#2e2e2e" stroke-width="0.7" />
<line x1="638.79" y1="168.30" x2="641.49" y2="168.30" stroke="#2e2e2e" stroke-width="0.7" />
<line x1="638.79" y1="129.60" x2="641.49" y2="129.60" stroke="#2e2e2e" stroke-width="0.7" />
<rect x="637.44" y="140.2" width="5.4" height="23.20" fill="#3274a1" stroke="#2e2e2e" stroke-width="0.6"/>
<line x1="637.44" y1="152.00" x2="642.84" y2="152.00" stroke="#2e2e2e" stroke-width="0.6" />
<line x1="649.93" y1="165.40" x2="649.93" y2="144.10" stroke="#2e2e2e" stroke-width="0.7" />
<line x1="649.93" y1="162.50" x2="649.93" y2="126.30" stroke="#2e2e2e" stroke-width="0.7" />
<line x1="648.58" y1="165.40" x2="651.28" y2="165.40" stroke="#2e2e2e" stroke-width="0.7" />
<line x1="648.58" y1="126.30" x2="651.28" y2="126.30" stroke="#2e2e2e" stroke-width="0.7" />
<rect x="647.23" y="144.1" width="5.4" height="18.40" fill="#3274a1" stroke="#2e2e2e" stroke-width="0.6"/>
<line x1="647.23" y1="152.00" x2="652.63" y2="152.00" stroke="#2e2e2e" stroke-width="0.6" />
<line x1="659.72" y1="164.40" x2="659.72" y2="153.80" stroke="#2e2e2e" stroke-width="0.7" />
<line x1="659.72" y1="161.00" x2="659.72" y2="151.80" stroke="#2e2e2e" stroke-width="0.7" />
<line x1="658.37" y1="164.40" x2="661.07" y2="164.40" stroke="#2e2e2e" stroke-width="0.7" />
<line x1="658.37" y1="151.80" x2="661.07" y2="151.80" stroke="#2e2e2e" stroke-width="0.7" />
<rect x="657.02" y="153.8" width="5.4" height="7.20" fill="#3a923a" stroke="#2e2e2e" stroke-width="0.6"/>
<line x1="657.02" y1="157.50" x2="662.42" y2="157.50" stroke="#2e2e2e" stroke-width="0.6" />
<line x1="669.51" y1="168.30" x2="669.51" y2="150.90" stroke="#2e2e2e" stroke-width="0.7" />
<line x1="669.51" y1="167.30" x2="669.51" y2="128.60" stroke="#2e2e2e" stroke-width="0.7" />
<line x1="668.16" y1="168.30" x2="670.86" y2="168.30" stroke="#2e2e2e" stroke-width="0.7" />
<line x1="668.16" y1="128.60" x2="670.86" y2="128.60" stroke="#2e2e2e" stroke-width="0.7" />
<rect x="666.81" y="150.9" width="5.4" height="16.40" fill="#3274a1" stroke="#2e2e2e" stroke-width="0.6"/>
<line x1="666.81" y1="160.00" x2="672.21" y2="160.00" stroke="#2e2e2e" stroke-width="0.6" />
<line x1="679.30" y1="166.30" x2="679.30" y2="157.20" stroke="#2e2e2e" stroke-width="0.7" />
<line x1="679.30" y1="165.40" x2="679.30" y2="157.20" stroke="#2e2e2e" stroke-width="0.7" />
<line x1="677.95" y1="166.30" x2="680.65" y2="166.30" stroke="#2e2e2e" stroke-width="0.7" />
<line x1="677.95" y1="157.20" x2="680.65" y2="157.20" stroke="#2e2e2e" stroke-width="0.7" />
<rect x="676.60" y="157.2" width="5.4" height="8.20" fill="#3274a1" stroke="#2e2e2e" stroke-width="0.6"/>
<line x1="676.60" y1="161.00" x2="682.00" y2="161.00" stroke="#2e2e2e" stroke-width="0.6" />
<circle cx="475.44" cy="92.70" r="1.65" fill="#ef8a30" stroke="#333" stroke-width="0.45"/>
<circle cx="473.54" cy="98.10" r="1.65" fill="#ef8a30" stroke="#333" stroke-width="0.45"/>
<circle cx="473.54" cy="102.10" r="1.65" fill="#ef8a30" stroke="#333" stroke-width="0.45"/>
<circle cx="472.94" cy="107.60" r="1.65" fill="#ef8a30" stroke="#333" stroke-width="0.45"/>
<circle cx="480.32" cy="112.40" r="1.65" fill="#3f9f3f" stroke="#333" stroke-width="0.45"/>
<circle cx="482.52" cy="113.20" r="1.65" fill="#3f9f3f" stroke="#333" stroke-width="0.45"/>
<circle cx="481.32" cy="114.60" r="1.65" fill="#3f9f3f" stroke="#333" stroke-width="0.45"/>
<circle cx="483.02" cy="115.40" r="1.65" fill="#3f9f3f" stroke="#333" stroke-width="0.45"/>
<circle cx="480.32" cy="117.60" r="1.65" fill="#3f9f3f" stroke="#333" stroke-width="0.45"/>
<circle cx="482.52" cy="119.00" r="1.65" fill="#3f9f3f" stroke="#333" stroke-width="0.45"/>
<circle cx="481.82" cy="122.70" r="1.65" fill="#3f9f3f" stroke="#333" stroke-width="0.45"/>
<circle cx="481.12" cy="127.20" r="1.65" fill="#3f9f3f" stroke="#333" stroke-width="0.45"/>
<circle cx="484.22" cy="132.30" r="1.65" fill="#3f9f3f" stroke="#333" stroke-width="0.45"/>
<circle cx="479.12" cy="138.20" r="1.65" fill="#3f9f3f" stroke="#333" stroke-width="0.45"/>
<circle cx="481.82" cy="139.70" r="1.65" fill="#3f9f3f" stroke="#333" stroke-width="0.45"/>
<circle cx="479.62" cy="152.20" r="1.65" fill="#3f9f3f" stroke="#333" stroke-width="0.45"/>
<circle cx="484.02" cy="157.90" r="1.65" fill="#3f9f3f" stroke="#333" stroke-width="0.45"/>
<circle cx="490.71" cy="93.40" r="1.65" fill="#ef8a30" stroke="#333" stroke-width="0.45"/>
<circle cx="488.51" cy="102.60" r="1.65" fill="#ef8a30" stroke="#333" stroke-width="0.45"/>
<circle cx="488.01" cy="109.90" r="1.65" fill="#ef8a30" stroke="#333" stroke-width="0.45"/>
<circle cx="491.41" cy="110.30" r="1.65" fill="#ef8a30" stroke="#333" stroke-width="0.45"/>
<circle cx="489.81" cy="112.60" r="1.65" fill="#ef8a30" stroke="#333" stroke-width="0.45"/>
<circle cx="490.11" cy="119.80" r="1.65" fill="#ef8a30" stroke="#333" stroke-width="0.45"/>
<circle cx="489.01" cy="122.00" r="1.65" fill="#ef8a30" stroke="#333" stroke-width="0.45"/>
<circle cx="491.01" cy="122.70" r="1.65" fill="#ef8a30" stroke="#333" stroke-width="0.45"/>
<circle cx="488.91" cy="125.00" r="1.65" fill="#ef8a30" stroke="#333" stroke-width="0.45"/>
<circle cx="491.41" cy="127.00" r="1.65" fill="#ef8a30" stroke="#333" stroke-width="0.45"/>
<circle cx="489.41" cy="129.50" r="1.65" fill="#ef8a30" stroke="#333" stroke-width="0.45"/>
<circle cx="490.91" cy="132.00" r="1.65" fill="#ef8a30" stroke="#333" stroke-width="0.45"/>
<circle cx="488.41" cy="134.00" r="1.65" fill="#ef8a30" stroke="#333" stroke-width="0.45"/>
<circle cx="490.41" cy="136.50" r="1.65" fill="#ef8a30" stroke="#333" stroke-width="0.45"/>
<circle cx="491.41" cy="139.00" r="1.65" fill="#ef8a30" stroke="#333" stroke-width="0.45"/>
<circle cx="488.91" cy="141.50" r="1.65" fill="#ef8a30" stroke="#333" stroke-width="0.45"/>
<circle cx="491.01" cy="144.10" r="1.65" fill="#ef8a30" stroke="#333" stroke-width="0.45"/>
<circle cx="487.21" cy="153.00" r="1.65" fill="#ef8a30" stroke="#333" stroke-width="0.45"/>
<circle cx="490.11" cy="156.70" r="1.65" fill="#ef8a30" stroke="#333" stroke-width="0.45"/>
<circle cx="487.21" cy="165.50" r="1.65" fill="#ef8a30" stroke="#333" stroke-width="0.45"/>
<circle cx="487.01" cy="168.50" r="1.65" fill="#ef8a30" stroke="#333" stroke-width="0.45"/>
<circle cx="490.11" cy="168.50" r="1.65" fill="#ef8a30" stroke="#333" stroke-width="0.45"/>
<circle cx="498.59" cy="118.10" r="1.65" fill="#ef8a30" stroke="#333" stroke-width="0.45"/>
<circle cx="495.79" cy="119.70" r="1.65" fill="#ef8a30" stroke="#333" stroke-width="0.45"/>
<circle cx="495.69" cy="120.50" r="1.65" fill="#ef8a30" stroke="#333" stroke-width="0.45"/>
<circle cx="498.69" cy="118.00" r="1.65" fill="#ef8a30" stroke="#333" stroke-width="0.45"/>
<circle cx="496.79" cy="128.50" r="1.65" fill="#ef8a30" stroke="#333" stroke-width="0.45"/>
<circle cx="498.99" cy="130.00" r="1.65" fill="#ef8a30" stroke="#333" stroke-width="0.45"/>
<circle cx="497.49" cy="133.50" r="1.65" fill="#ef8a30" stroke="#333" stroke-width="0.45"/>
<circle cx="498.49" cy="135.00" r="1.65" fill="#ef8a30" stroke="#333" stroke-width="0.45"/>
<circle cx="498.49" cy="141.90" r="1.65" fill="#ef8a30" stroke="#333" stroke-width="0.45"/>
<circle cx="495.99" cy="155.50" r="1.65" fill="#ef8a30" stroke="#333" stroke-width="0.45"/>
<circle cx="505.88" cy="101.30" r="1.65" fill="#3f9f3f" stroke="#333" stroke-width="0.45"/>
<circle cx="507.57" cy="113.00" r="1.65" fill="#3f9f3f" stroke="#333" stroke-width="0.45"/>
<circle cx="503.38" cy="131.00" r="1.65" fill="#3f9f3f" stroke="#333" stroke-width="0.45"/>
<circle cx="505.07" cy="132.00" r="1.65" fill="#3f9f3f" stroke="#333" stroke-width="0.45"/>
<circle cx="506.57" cy="133.50" r="1.65" fill="#3f9f3f" stroke="#333" stroke-width="0.45"/>
<circle cx="507.57" cy="135.00" r="1.65" fill="#3f9f3f" stroke="#333" stroke-width="0.45"/>
<circle cx="508.57" cy="136.80" r="1.65" fill="#3f9f3f" stroke="#333" stroke-width="0.45"/>
<circle cx="507.77" cy="168.50" r="1.65" fill="#3f9f3f" stroke="#333" stroke-width="0.45"/>
<circle cx="514.86" cy="104.80" r="1.65" fill="#ef8a30" stroke="#333" stroke-width="0.45"/>
<circle cx="512.16" cy="121.30" r="1.65" fill="#ef8a30" stroke="#333" stroke-width="0.45"/>
<circle cx="512.26" cy="139.70" r="1.65" fill="#ef8a30" stroke="#333" stroke-width="0.45"/>
<circle cx="514.96" cy="142.00" r="1.65" fill="#ef8a30" stroke="#333" stroke-width="0.45"/>
<circle cx="515.96" cy="143.40" r="1.65" fill="#ef8a30" stroke="#333" stroke-width="0.45"/>
<circle cx="515.96" cy="161.80" r="1.65" fill="#ef8a30" stroke="#333" stroke-width="0.45"/>
<circle cx="512.06" cy="168.50" r="1.65" fill="#ef8a30" stroke="#333" stroke-width="0.45"/>
<circle cx="513.16" cy="168.50" r="1.65" fill="#ef8a30" stroke="#333" stroke-width="0.45"/>
<circle cx="522.04" cy="105.20" r="1.65" fill="#ef8a30" stroke="#333" stroke-width="0.45"/>
<circle cx="519.74" cy="122.70" r="1.65" fill="#ef8a30" stroke="#333" stroke-width="0.45"/>
<circle cx="520.84" cy="126.10" r="1.65" fill="#ef8a30" stroke="#333" stroke-width="0.45"/>
<circle cx="522.64" cy="135.50" r="1.65" fill="#ef8a30" stroke="#333" stroke-width="0.45"/>
<circle cx="521.04" cy="138.90" r="1.65" fill="#ef8a30" stroke="#333" stroke-width="0.45"/>
<circle cx="523.14" cy="142.30" r="1.65" fill="#ef8a30" stroke="#333" stroke-width="0.45"/>
<circle cx="520.84" cy="145.70" r="1.65" fill="#ef8a30" stroke="#333" stroke-width="0.45"/>
<circle cx="522.94" cy="149.10" r="1.65" fill="#ef8a30" stroke="#333" stroke-width="0.45"/>
<circle cx="522.14" cy="152.50" r="1.65" fill="#ef8a30" stroke="#333" stroke-width="0.45"/>
<circle cx="521.04" cy="155.90" r="1.65" fill="#ef8a30" stroke="#333" stroke-width="0.45"/>
<circle cx="522.64" cy="162.70" r="1.65" fill="#ef8a30" stroke="#333" stroke-width="0.45"/>
<circle cx="524.34" cy="164.10" r="1.65" fill="#ef8a30" stroke="#333" stroke-width="0.45"/>
<circle cx="528.33" cy="104.00" r="1.65" fill="#ef8a30" stroke="#333" stroke-width="0.45"/>
<circle cx="527.93" cy="136.80" r="1.65" fill="#ef8a30" stroke="#333" stroke-width="0.45"/>
<circle cx="530.53" cy="142.30" r="1.65" fill="#ef8a30" stroke="#333" stroke-width="0.45"/>
<circle cx="528.83" cy="145.70" r="1.65" fill="#ef8a30" stroke="#333" stroke-width="0.45"/>
<circle cx="531.73" cy="144.00" r="1.65" fill="#ef8a30" stroke="#333" stroke-width="0.45"/>
<circle cx="530.53" cy="149.10" r="1.65" fill="#ef8a30" stroke="#333" stroke-width="0.45"/>
<circle cx="531.33" cy="155.10" r="1.65" fill="#ef8a30" stroke="#333" stroke-width="0.45"/>
<circle cx="529.62" cy="164.40" r="1.65" fill="#ef8a30" stroke="#333" stroke-width="0.45"/>
<circle cx="536.41" cy="128.30" r="1.65" fill="#ef8a30" stroke="#333" stroke-width="0.45"/>
<circle cx="537.31" cy="144.80" r="1.65" fill="#ef8a30" stroke="#333" stroke-width="0.45"/>
<circle cx="538.11" cy="147.40" r="1.65" fill="#ef8a30" stroke="#333" stroke-width="0.45"/>
<circle cx="539.91" cy="149.10" r="1.65" fill="#ef8a30" stroke="#333" stroke-width="0.45"/>
<circle cx="543.59" cy="126.60" r="1.65" fill="#3f9f3f" stroke="#333" stroke-width="0.45"/>
<circle cx="546.69" cy="147.40" r="1.65" fill="#3f9f3f" stroke="#333" stroke-width="0.45"/>
<circle cx="544.99" cy="154.20" r="1.65" fill="#3f9f3f" stroke="#333" stroke-width="0.45"/>
<circle cx="546.69" cy="156.80" r="1.65" fill="#3f9f3f" stroke="#333" stroke-width="0.45"/>
<circle cx="545.79" cy="159.30" r="1.65" fill="#3f9f3f" stroke="#333" stroke-width="0.45"/>
<circle cx="544.09" cy="162.70" r="1.65" fill="#3f9f3f" stroke="#333" stroke-width="0.45"/>
<circle cx="545.29" cy="165.30" r="1.65" fill="#3f9f3f" stroke="#333" stroke-width="0.45"/>
<circle cx="546.69" cy="167.00" r="1.65" fill="#3f9f3f" stroke="#333" stroke-width="0.45"/>
<circle cx="553.48" cy="117.10" r="1.65" fill="#3f9f3f" stroke="#333" stroke-width="0.45"/>
<circle cx="555.18" cy="123.20" r="1.65" fill="#3f9f3f" stroke="#333" stroke-width="0.45"/>
<circle cx="552.58" cy="124.90" r="1.65" fill="#3f9f3f" stroke="#333" stroke-width="0.45"/>
<circle cx="555.98" cy="138.90" r="1.65" fill="#3f9f3f" stroke="#333" stroke-width="0.45"/>
<circle cx="553.38" cy="149.10" r="1.65" fill="#3f9f3f" stroke="#333" stroke-width="0.45"/>
<circle cx="556.08" cy="152.50" r="1.65" fill="#3f9f3f" stroke="#333" stroke-width="0.45"/>
<circle cx="552.58" cy="155.90" r="1.65" fill="#3f9f3f" stroke="#333" stroke-width="0.45"/>
<circle cx="555.38" cy="158.50" r="1.65" fill="#3f9f3f" stroke="#333" stroke-width="0.45"/>
<circle cx="553.58" cy="161.00" r="1.65" fill="#3f9f3f" stroke="#333" stroke-width="0.45"/>
<circle cx="556.08" cy="162.70" r="1.65" fill="#3f9f3f" stroke="#333" stroke-width="0.45"/>
<circle cx="552.58" cy="166.10" r="1.65" fill="#3f9f3f" stroke="#333" stroke-width="0.45"/>
<circle cx="555.08" cy="168.20" r="1.65" fill="#3f9f3f" stroke="#333" stroke-width="0.45"/>
<circle cx="561.76" cy="138.50" r="1.65" fill="#ef8a30" stroke="#333" stroke-width="0.45"/>
<circle cx="561.16" cy="160.70" r="1.65" fill="#ef8a30" stroke="#333" stroke-width="0.45"/>
<circle cx="560.66" cy="168.20" r="1.65" fill="#ef8a30" stroke="#333" stroke-width="0.45"/>
<circle cx="569.90" cy="103.10" r="1.65" fill="#3d80b4" stroke="#333" stroke-width="0.45"/>
<circle cx="571.40" cy="106.40" r="1.65" fill="#3d80b4" stroke="#333" stroke-width="0.45"/>
<circle cx="573.70" cy="107.30" r="1.65" fill="#3d80b4" stroke="#333" stroke-width="0.45"/>
<circle cx="568.90" cy="106.40" r="1.65" fill="#3d80b4" stroke="#333" stroke-width="0.45"/>
<circle cx="572.20" cy="112.20" r="1.65" fill="#3d80b4" stroke="#333" stroke-width="0.45"/>
<circle cx="579.49" cy="107.30" r="1.65" fill="#3f9f3f" stroke="#333" stroke-width="0.45"/>
<circle cx="582.39" cy="106.40" r="1.65" fill="#3f9f3f" stroke="#333" stroke-width="0.45"/>
<circle cx="583.79" cy="106.80" r="1.65" fill="#3f9f3f" stroke="#333" stroke-width="0.45"/>
<circle cx="580.39" cy="119.90" r="1.65" fill="#3f9f3f" stroke="#333" stroke-width="0.45"/>
<circle cx="579.49" cy="122.80" r="1.65" fill="#3f9f3f" stroke="#333" stroke-width="0.45"/>
<circle cx="581.39" cy="125.70" r="1.65" fill="#3f9f3f" stroke="#333" stroke-width="0.45"/>
<circle cx="582.39" cy="131.50" r="1.65" fill="#3f9f3f" stroke="#333" stroke-width="0.45"/>
<circle cx="580.89" cy="133.50" r="1.65" fill="#3f9f3f" stroke="#333" stroke-width="0.45"/>
<circle cx="578.59" cy="137.90" r="1.65" fill="#3f9f3f" stroke="#333" stroke-width="0.45"/>
<circle cx="591.08" cy="123.80" r="1.65" fill="#3d80b4" stroke="#333" stroke-width="0.45"/>
<circle cx="590.18" cy="129.60" r="1.65" fill="#3d80b4" stroke="#333" stroke-width="0.45"/>
<circle cx="592.08" cy="130.60" r="1.65" fill="#3d80b4" stroke="#333" stroke-width="0.45"/>
<circle cx="588.28" cy="140.20" r="1.65" fill="#3d80b4" stroke="#333" stroke-width="0.45"/>
<circle cx="590.18" cy="139.80" r="1.65" fill="#3d80b4" stroke="#333" stroke-width="0.45"/>
<circle cx="593.08" cy="141.20" r="1.65" fill="#3d80b4" stroke="#333" stroke-width="0.45"/>
<circle cx="588.78" cy="144.10" r="1.65" fill="#3d80b4" stroke="#333" stroke-width="0.45"/>
<circle cx="591.18" cy="145.10" r="1.65" fill="#3d80b4" stroke="#333" stroke-width="0.45"/>
<circle cx="594.08" cy="143.70" r="1.65" fill="#3d80b4" stroke="#333" stroke-width="0.45"/>
<circle cx="588.28" cy="148.00" r="1.65" fill="#3d80b4" stroke="#333" stroke-width="0.45"/>
<circle cx="592.08" cy="148.30" r="1.65" fill="#3d80b4" stroke="#333" stroke-width="0.45"/>
<circle cx="589.28" cy="150.90" r="1.65" fill="#3d80b4" stroke="#333" stroke-width="0.45"/>
<circle cx="593.08" cy="151.80" r="1.65" fill="#3d80b4" stroke="#333" stroke-width="0.45"/>
<circle cx="590.18" cy="154.70" r="1.65" fill="#3d80b4" stroke="#333" stroke-width="0.45"/>
<circle cx="593.08" cy="157.60" r="1.65" fill="#3d80b4" stroke="#333" stroke-width="0.45"/>
<circle cx="591.18" cy="161.50" r="1.65" fill="#3d80b4" stroke="#333" stroke-width="0.45"/>
<circle cx="594.08" cy="161.90" r="1.65" fill="#3d80b4" stroke="#333" stroke-width="0.45"/>
<circle cx="599.27" cy="129.00" r="1.65" fill="#3d80b4" stroke="#333" stroke-width="0.45"/>
<circle cx="601.77" cy="168.90" r="1.65" fill="#3d80b4" stroke="#333" stroke-width="0.45"/>
<circle cx="601.47" cy="149.50" r="1.65" fill="#3d80b4" stroke="#333" stroke-width="0.45"/>
<circle cx="611.46" cy="93.80" r="1.65" fill="#3d80b4" stroke="#333" stroke-width="0.45"/>
<circle cx="607.56" cy="129.00" r="1.65" fill="#3d80b4" stroke="#333" stroke-width="0.45"/>
<circle cx="610.06" cy="147.60" r="1.65" fill="#3d80b4" stroke="#333" stroke-width="0.45"/>
<circle cx="613.36" cy="154.20" r="1.65" fill="#3d80b4" stroke="#333" stroke-width="0.45"/>
<circle cx="610.86" cy="168.90" r="1.65" fill="#3d80b4" stroke="#333" stroke-width="0.45"/>
<circle cx="617.45" cy="100.60" r="1.65" fill="#3d80b4" stroke="#333" stroke-width="0.45"/>
<circle cx="622.65" cy="101.50" r="1.65" fill="#3d80b4" stroke="#333" stroke-width="0.45"/>
<circle cx="619.35" cy="138.70" r="1.65" fill="#3d80b4" stroke="#333" stroke-width="0.45"/>
<circle cx="623.25" cy="135.40" r="1.65" fill="#3d80b4" stroke="#333" stroke-width="0.45"/>
<circle cx="619.95" cy="149.90" r="1.65" fill="#3d80b4" stroke="#333" stroke-width="0.45"/>
<circle cx="620.95" cy="154.70" r="1.65" fill="#3d80b4" stroke="#333" stroke-width="0.45"/>
<circle cx="618.95" cy="155.70" r="1.65" fill="#3d80b4" stroke="#333" stroke-width="0.45"/>
<circle cx="617.95" cy="158.60" r="1.65" fill="#3d80b4" stroke="#333" stroke-width="0.45"/>
<circle cx="620.95" cy="161.50" r="1.65" fill="#3d80b4" stroke="#333" stroke-width="0.45"/>
<circle cx="618.95" cy="165.00" r="1.65" fill="#3d80b4" stroke="#333" stroke-width="0.45"/>
<circle cx="620.95" cy="168.30" r="1.65" fill="#3d80b4" stroke="#333" stroke-width="0.45"/>
<circle cx="629.05" cy="133.80" r="1.65" fill="#3d80b4" stroke="#333" stroke-width="0.45"/>
<circle cx="629.05" cy="148.90" r="1.65" fill="#3d80b4" stroke="#333" stroke-width="0.45"/>
<circle cx="631.35" cy="149.90" r="1.65" fill="#3d80b4" stroke="#333" stroke-width="0.45"/>
<circle cx="628.35" cy="152.80" r="1.65" fill="#3d80b4" stroke="#333" stroke-width="0.45"/>
<circle cx="632.35" cy="154.70" r="1.65" fill="#3d80b4" stroke="#333" stroke-width="0.45"/>
<circle cx="629.75" cy="156.70" r="1.65" fill="#3d80b4" stroke="#333" stroke-width="0.45"/>
<circle cx="631.35" cy="159.60" r="1.65" fill="#3d80b4" stroke="#333" stroke-width="0.45"/>
<circle cx="628.75" cy="162.50" r="1.65" fill="#3d80b4" stroke="#333" stroke-width="0.45"/>
<circle cx="631.65" cy="165.40" r="1.65" fill="#3d80b4" stroke="#333" stroke-width="0.45"/>
<circle cx="642.54" cy="129.60" r="1.65" fill="#3d80b4" stroke="#333" stroke-width="0.45"/>
<circle cx="641.04" cy="137.90" r="1.65" fill="#3d80b4" stroke="#333" stroke-width="0.45"/>
<circle cx="640.04" cy="153.80" r="1.65" fill="#3d80b4" stroke="#333" stroke-width="0.45"/>
<circle cx="639.04" cy="160.50" r="1.65" fill="#3d80b4" stroke="#333" stroke-width="0.45"/>
<circle cx="638.74" cy="168.30" r="1.65" fill="#3d80b4" stroke="#333" stroke-width="0.45"/>
<circle cx="642.94" cy="166.30" r="1.65" fill="#3d80b4" stroke="#333" stroke-width="0.45"/>
<circle cx="650.83" cy="126.30" r="1.65" fill="#3d80b4" stroke="#333" stroke-width="0.45"/>
<circle cx="651.13" cy="140.60" r="1.65" fill="#3d80b4" stroke="#333" stroke-width="0.45"/>
<circle cx="648.83" cy="155.70" r="1.65" fill="#3d80b4" stroke="#333" stroke-width="0.45"/>
<circle cx="650.83" cy="161.10" r="1.65" fill="#3d80b4" stroke="#333" stroke-width="0.45"/>
<circle cx="652.73" cy="165.40" r="1.65" fill="#3d80b4" stroke="#333" stroke-width="0.45"/>
<circle cx="657.72" cy="151.80" r="1.65" fill="#3f9f3f" stroke="#333" stroke-width="0.45"/>
<circle cx="660.62" cy="152.80" r="1.65" fill="#3f9f3f" stroke="#333" stroke-width="0.45"/>
<circle cx="658.72" cy="154.70" r="1.65" fill="#3f9f3f" stroke="#333" stroke-width="0.45"/>
<circle cx="662.02" cy="155.70" r="1.65" fill="#3f9f3f" stroke="#333" stroke-width="0.45"/>
<circle cx="657.72" cy="157.20" r="1.65" fill="#3f9f3f" stroke="#333" stroke-width="0.45"/>
<circle cx="660.62" cy="158.60" r="1.65" fill="#3f9f3f" stroke="#333" stroke-width="0.45"/>
<circle cx="663.22" cy="160.00" r="1.65" fill="#3f9f3f" stroke="#333" stroke-width="0.45"/>
<circle cx="658.72" cy="161.50" r="1.65" fill="#3f9f3f" stroke="#333" stroke-width="0.45"/>
<circle cx="662.02" cy="163.00" r="1.65" fill="#3f9f3f" stroke="#333" stroke-width="0.45"/>
<circle cx="663.52" cy="164.40" r="1.65" fill="#3f9f3f" stroke="#333" stroke-width="0.45"/>
<circle cx="668.41" cy="128.60" r="1.65" fill="#3d80b4" stroke="#333" stroke-width="0.45"/>
<circle cx="670.31" cy="130.60" r="1.65" fill="#3d80b4" stroke="#333" stroke-width="0.45"/>
<circle cx="672.81" cy="140.60" r="1.65" fill="#3d80b4" stroke="#333" stroke-width="0.45"/>
<circle cx="671.71" cy="149.50" r="1.65" fill="#3d80b4" stroke="#333" stroke-width="0.45"/>
<circle cx="667.51" cy="155.70" r="1.65" fill="#3d80b4" stroke="#333" stroke-width="0.45"/>
<circle cx="669.51" cy="159.60" r="1.65" fill="#3d80b4" stroke="#333" stroke-width="0.45"/>
<circle cx="666.71" cy="162.50" r="1.65" fill="#3d80b4" stroke="#333" stroke-width="0.45"/>
<circle cx="670.51" cy="164.40" r="1.65" fill="#3d80b4" stroke="#333" stroke-width="0.45"/>
<circle cx="667.91" cy="168.30" r="1.65" fill="#3d80b4" stroke="#333" stroke-width="0.45"/>
<circle cx="671.01" cy="168.30" r="1.65" fill="#3d80b4" stroke="#333" stroke-width="0.45"/>
<circle cx="681.90" cy="131.50" r="1.65" fill="#3d80b4" stroke="#333" stroke-width="0.45"/>
<circle cx="677.10" cy="165.40" r="1.65" fill="#3d80b4" stroke="#333" stroke-width="0.45"/>
<circle cx="681.00" cy="166.30" r="1.65" fill="#3d80b4" stroke="#333" stroke-width="0.45"/>
<circle cx="679.30" cy="163.00" r="1.65" fill="#3d80b4" stroke="#333" stroke-width="0.45"/>
<line x1="469.70" y1="143.20" x2="566.70" y2="143.20" stroke="#111" stroke-width="0.75" stroke-dasharray="0.8 1.3"/>
<line x1="566.70" y1="154.30" x2="684.20" y2="154.30" stroke="#111" stroke-width="0.75" stroke-dasharray="0.8 1.3"/>
<rect x="469.7" y="68.5" width="214.50000000000006" height="103.80000000000001" fill="none" stroke="#959595" stroke-width="0.8"/>
<line x1="469.70" y1="88.80" x2="684.20" y2="88.80" stroke="#959595" stroke-width="0.8" />
<line x1="566.70" y1="68.50" x2="566.70" y2="172.30" stroke="#444" stroke-width="0.8" />
<line x1="466.40" y1="75.30" x2="469.70" y2="75.30" stroke="#959595" stroke-width="0.8" />
<line x1="563.40" y1="75.30" x2="566.70" y2="75.30" stroke="#959595" stroke-width="0.8" />
<text x="461.60" y="77.70" font-size="6.7" text-anchor="end" fill="#000" >100</text>
<line x1="466.40" y1="88.80" x2="469.70" y2="88.80" stroke="#959595" stroke-width="0.8" />
<line x1="563.40" y1="88.80" x2="566.70" y2="88.80" stroke="#959595" stroke-width="0.8" />
<text x="461.60" y="91.20" font-size="6.7" text-anchor="end" fill="#000" >0</text>
<line x1="466.40" y1="168.80" x2="469.70" y2="168.80" stroke="#959595" stroke-width="0.8" />
<line x1="563.40" y1="168.80" x2="566.70" y2="168.80" stroke="#959595" stroke-width="0.8" />
<text x="461.60" y="171.20" font-size="6.7" text-anchor="end" fill="#000" >0</text>
<line x1="466.40" y1="150.30" x2="469.70" y2="150.30" stroke="#959595" stroke-width="0.8" />
<line x1="563.40" y1="150.30" x2="566.70" y2="150.30" stroke="#959595" stroke-width="0.8" />
<text x="461.60" y="152.70" font-size="6.7" text-anchor="end" fill="#000" >0.2</text>
<line x1="466.40" y1="131.80" x2="469.70" y2="131.80" stroke="#959595" stroke-width="0.8" />
<line x1="563.40" y1="131.80" x2="566.70" y2="131.80" stroke="#959595" stroke-width="0.8" />
<text x="461.60" y="134.20" font-size="6.7" text-anchor="end" fill="#000" >0.4</text>
<line x1="466.40" y1="113.30" x2="469.70" y2="113.30" stroke="#959595" stroke-width="0.8" />
<line x1="563.40" y1="113.30" x2="566.70" y2="113.30" stroke="#959595" stroke-width="0.8" />
<text x="461.60" y="115.70" font-size="6.7" text-anchor="end" fill="#000" >0.6</text>
<line x1="466.40" y1="94.80" x2="469.70" y2="94.80" stroke="#959595" stroke-width="0.8" />
<line x1="563.40" y1="94.80" x2="566.70" y2="94.80" stroke="#959595" stroke-width="0.8" />
<text x="461.60" y="97.20" font-size="6.7" text-anchor="end" fill="#000" >0.8</text>
<text transform="translate(435.3,78.7) rotate(-90)" font-size="6.7" text-anchor="middle">Amount of feces (g)</text>
<text transform="translate(440.6,131.3) rotate(-90)" font-size="6.7" text-anchor="middle">Strain engraftment rate</text>
<line x1="473.74" y1="172.30" x2="473.74" y2="175.90" stroke="#959595" stroke-width="0.8" />
<text transform="translate(477.34,185.90) rotate(-45)" font-size="6.05" text-anchor="end">MossE_2017 (<tspan font-style="italic">n</tspan> = 2)</text>
<line x1="481.82" y1="172.30" x2="481.82" y2="175.90" stroke="#959595" stroke-width="0.8" />
<text transform="translate(485.43,185.90) rotate(-45)" font-size="6.05" text-anchor="end">WatsonAR_2021 (<tspan font-style="italic">n</tspan> = 10)</text>
<line x1="489.91" y1="172.30" x2="489.91" y2="175.90" stroke="#959595" stroke-width="0.8" />
<text transform="translate(493.51,185.90) rotate(-45)" font-size="6.05" text-anchor="end">VermaS_2021 (<tspan font-style="italic">n</tspan> = 22)</text>
<line x1="497.99" y1="172.30" x2="497.99" y2="175.90" stroke="#959595" stroke-width="0.8" />
<text transform="translate(501.59,185.90) rotate(-45)" font-size="6.05" text-anchor="end">HouriganS_2019 (<tspan font-style="italic">n</tspan> = 8)</text>
<line x1="506.07" y1="172.30" x2="506.07" y2="175.90" stroke="#959595" stroke-width="0.8" />
<text transform="translate(509.68,185.90) rotate(-45)" font-size="6.05" text-anchor="end">LeoS_2020 (<tspan font-style="italic">n</tspan> = 9)</text>
<line x1="514.16" y1="172.30" x2="514.16" y2="175.90" stroke="#959595" stroke-width="0.8" />
<text transform="translate(517.76,185.90) rotate(-45)" font-size="6.05" text-anchor="end">PodlesnyD_2020 (<tspan font-style="italic">n</tspan> = 8)</text>
<line x1="522.24" y1="172.30" x2="522.24" y2="175.90" stroke="#959595" stroke-width="0.8" />
<text transform="translate(525.84,185.90) rotate(-45)" font-size="6.05" text-anchor="end">SmillieC_2018 (<tspan font-style="italic">n</tspan> = 16)</text>
<line x1="530.33" y1="172.30" x2="530.33" y2="175.90" stroke="#959595" stroke-width="0.8" />
<text transform="translate(533.93,185.90) rotate(-45)" font-size="6.05" text-anchor="end">BarYosephH_2020 (<tspan font-style="italic">n</tspan> = 7)</text>
<line x1="538.41" y1="172.30" x2="538.41" y2="175.90" stroke="#959595" stroke-width="0.8" />
<text transform="translate(542.01,185.90) rotate(-45)" font-size="6.05" text-anchor="end">KumarR_2017 (<tspan font-style="italic">n</tspan> = 4)</text>
<line x1="546.49" y1="172.30" x2="546.49" y2="175.90" stroke="#959595" stroke-width="0.8" />
<text transform="translate(550.09,185.90) rotate(-45)" font-size="6.05" text-anchor="end">AggarwalaV_2021 (<tspan font-style="italic">n</tspan> = 10)</text>
<line x1="554.58" y1="172.30" x2="554.58" y2="175.90" stroke="#959595" stroke-width="0.8" />
<text transform="translate(558.18,185.90) rotate(-45)" font-size="6.05" text-anchor="end">This_study_Cdiff (<tspan font-style="italic">n</tspan> = 16)</text>
<line x1="562.66" y1="172.30" x2="562.66" y2="175.90" stroke="#959595" stroke-width="0.8" />
<text transform="translate(566.26,185.90) rotate(-45)" font-size="6.05" text-anchor="end">This_study_MDRB (<tspan font-style="italic">n</tspan> = 5)</text>
<line x1="571.60" y1="172.30" x2="571.60" y2="175.90" stroke="#959595" stroke-width="0.8" />
<text transform="translate(575.20,185.90) rotate(-45)" font-size="6.05" text-anchor="end">ZhaoH_2020 (<tspan font-style="italic">n</tspan> = 5)</text>
<line x1="581.39" y1="172.30" x2="581.39" y2="175.90" stroke="#959595" stroke-width="0.8" />
<text transform="translate(584.99,185.90) rotate(-45)" font-size="6.05" text-anchor="end">BaruchE_2020 (<tspan font-style="italic">n</tspan> = 10)</text>
<line x1="591.18" y1="172.30" x2="591.18" y2="175.90" stroke="#959595" stroke-width="0.8" />
<text transform="translate(594.78,185.90) rotate(-45)" font-size="6.05" text-anchor="end">GollR_2020 (<tspan font-style="italic">n</tspan> = 20)</text>
<line x1="600.97" y1="172.30" x2="600.97" y2="175.90" stroke="#959595" stroke-width="0.8" />
<text transform="translate(604.57,185.90) rotate(-45)" font-size="6.05" text-anchor="end">This_study_IBD (<tspan font-style="italic">n</tspan> = 2)</text>
<line x1="610.76" y1="172.30" x2="610.76" y2="175.90" stroke="#959595" stroke-width="0.8" />
<text transform="translate(614.36,185.90) rotate(-45)" font-size="6.05" text-anchor="end">IaniroG_2020 (<tspan font-style="italic">n</tspan> = 6)</text>
<line x1="620.55" y1="172.30" x2="620.55" y2="175.90" stroke="#959595" stroke-width="0.8" />
<text transform="translate(624.15,185.90) rotate(-45)" font-size="6.05" text-anchor="end">VaughnB_2016 (<tspan font-style="italic">n</tspan> = 14)</text>
<line x1="630.35" y1="172.30" x2="630.35" y2="175.90" stroke="#959595" stroke-width="0.8" />
<text transform="translate(633.95,185.90) rotate(-45)" font-size="6.05" text-anchor="end">DammanC_2015 (<tspan font-style="italic">n</tspan> = 6)</text>
<line x1="640.14" y1="172.30" x2="640.14" y2="175.90" stroke="#959595" stroke-width="0.8" />
<text transform="translate(643.74,185.90) rotate(-45)" font-size="6.05" text-anchor="end">KoopenAM_2021 (<tspan font-style="italic">n</tspan> = 12)</text>
<line x1="649.93" y1="172.30" x2="649.93" y2="175.90" stroke="#959595" stroke-width="0.8" />
<text transform="translate(653.53,185.90) rotate(-45)" font-size="6.05" text-anchor="end">KongL_2020 (<tspan font-style="italic">n</tspan> = 7)</text>
<line x1="659.72" y1="172.30" x2="659.72" y2="175.90" stroke="#959595" stroke-width="0.8" />
<text transform="translate(663.32,185.90) rotate(-45)" font-size="6.05" text-anchor="end">SuskindD_2015 (<tspan font-style="italic">n</tspan> = 9)</text>
<line x1="669.51" y1="172.30" x2="669.51" y2="175.90" stroke="#959595" stroke-width="0.8" />
<text transform="translate(673.11,185.90) rotate(-45)" font-size="6.05" text-anchor="end">DavarD_2021 (<tspan font-style="italic">n</tspan> = 14)</text>
<line x1="679.30" y1="172.30" x2="679.30" y2="175.90" stroke="#959595" stroke-width="0.8" />
<text transform="translate(682.90,185.90) rotate(-45)" font-size="6.05" text-anchor="end">LiS_2016 (<tspan font-style="italic">n</tspan> = 4)</text>
<text x="425.30" y="258.80" font-size="9.7" text-anchor="start" font-weight="bold" fill="#000" >c</text>
<text x="489.90" y="260.00" font-size="6.7" text-anchor="start" fill="#000" >Clinical success</text>
<rect x="565.4" y="254.2" width="16.4" height="5.6" fill="#107010" stroke="#333" stroke-width="0.5"/>
<text x="587.90" y="260.00" font-size="6.7" text-anchor="start" fill="#000" >Yes</text>
<rect x="619.6" y="254.2" width="15.7" height="5.6" fill="#df9c20" stroke="#333" stroke-width="0.5"/>
<text x="641.50" y="260.00" font-size="6.7" text-anchor="start" fill="#000" >No</text>
<rect x="659.9" y="331.5" width="4.0" height="11.2" fill="#b5b5b5" stroke="#2e2e2e" stroke-width="0.5"/>
<line x1="475.60" y1="328.50" x2="475.60" y2="331.00" stroke="#2e2e2e" stroke-width="0.7" />
<line x1="475.60" y1="344.80" x2="475.60" y2="359.40" stroke="#2e2e2e" stroke-width="0.7" />
<line x1="474.60" y1="328.50" x2="476.60" y2="328.50" stroke="#2e2e2e" stroke-width="0.7" />
<line x1="474.60" y1="359.40" x2="476.60" y2="359.40" stroke="#2e2e2e" stroke-width="0.7" />
<rect x="473.6" y="331.0" width="4.00" height="13.80" fill="#107010" stroke="#2e2e2e" stroke-width="0.6"/>
<line x1="473.60" y1="337.90" x2="477.60" y2="337.90" stroke="#2e2e2e" stroke-width="0.5" />
<line x1="479.50" y1="354.00" x2="479.50" y2="354.00" stroke="#2e2e2e" stroke-width="0.7" />
<line x1="479.50" y1="361.00" x2="479.50" y2="362.00" stroke="#2e2e2e" stroke-width="0.7" />
<line x1="478.55" y1="354.00" x2="480.45" y2="354.00" stroke="#2e2e2e" stroke-width="0.7" />
<line x1="478.55" y1="362.00" x2="480.45" y2="362.00" stroke="#2e2e2e" stroke-width="0.7" />
<rect x="477.6" y="354.0" width="3.80" height="7.00" fill="#df9c20" stroke="#2e2e2e" stroke-width="0.6"/>
<line x1="477.60" y1="357.50" x2="481.40" y2="357.50" stroke="#2e2e2e" stroke-width="0.5" />
<line x1="492.35" y1="323.10" x2="492.35" y2="325.50" stroke="#2e2e2e" stroke-width="0.7" />
<line x1="492.35" y1="346.30" x2="492.35" y2="358.30" stroke="#2e2e2e" stroke-width="0.7" />
<line x1="491.38" y1="323.10" x2="493.33" y2="323.10" stroke="#2e2e2e" stroke-width="0.7" />
<line x1="491.38" y1="358.30" x2="493.33" y2="358.30" stroke="#2e2e2e" stroke-width="0.7" />
<rect x="490.4" y="325.5" width="3.90" height="20.80" fill="#107010" stroke="#2e2e2e" stroke-width="0.6"/>
<line x1="490.40" y1="335.90" x2="494.30" y2="335.90" stroke="#2e2e2e" stroke-width="0.5" />
<line x1="508.75" y1="284.10" x2="508.75" y2="287.50" stroke="#2e2e2e" stroke-width="0.7" />
<line x1="508.75" y1="302.40" x2="508.75" y2="316.80" stroke="#2e2e2e" stroke-width="0.7" />
<line x1="507.68" y1="284.10" x2="509.82" y2="284.10" stroke="#2e2e2e" stroke-width="0.7" />
<line x1="507.68" y1="316.80" x2="509.82" y2="316.80" stroke="#2e2e2e" stroke-width="0.7" />
<rect x="506.6" y="287.5" width="4.30" height="14.90" fill="#107010" stroke="#2e2e2e" stroke-width="0.6"/>
<line x1="506.60" y1="294.95" x2="510.90" y2="294.95" stroke="#2e2e2e" stroke-width="0.5" />
<line x1="512.85" y1="284.40" x2="512.85" y2="303.70" stroke="#2e2e2e" stroke-width="0.7" />
<line x1="512.85" y1="314.50" x2="512.85" y2="324.00" stroke="#2e2e2e" stroke-width="0.7" />
<line x1="511.73" y1="284.40" x2="513.98" y2="284.40" stroke="#2e2e2e" stroke-width="0.7" />
<line x1="511.73" y1="324.00" x2="513.98" y2="324.00" stroke="#2e2e2e" stroke-width="0.7" />
<rect x="510.6" y="303.7" width="4.50" height="10.80" fill="#df9c20" stroke="#2e2e2e" stroke-width="0.6"/>
<line x1="510.60" y1="309.10" x2="515.10" y2="309.10" stroke="#2e2e2e" stroke-width="0.5" />
<line x1="525.45" y1="328.00" x2="525.45" y2="339.70" stroke="#2e2e2e" stroke-width="0.7" />
<line x1="525.45" y1="361.80" x2="525.45" y2="362.20" stroke="#2e2e2e" stroke-width="0.7" />
<line x1="524.43" y1="328.00" x2="526.48" y2="328.00" stroke="#2e2e2e" stroke-width="0.7" />
<line x1="524.43" y1="362.20" x2="526.48" y2="362.20" stroke="#2e2e2e" stroke-width="0.7" />
<rect x="523.4" y="339.7" width="4.10" height="22.10" fill="#107010" stroke="#2e2e2e" stroke-width="0.6"/>
<line x1="523.40" y1="350.75" x2="527.50" y2="350.75" stroke="#2e2e2e" stroke-width="0.5" />
<line x1="529.30" y1="315.30" x2="529.30" y2="340.20" stroke="#2e2e2e" stroke-width="0.7" />
<line x1="529.30" y1="362.70" x2="529.30" y2="362.70" stroke="#2e2e2e" stroke-width="0.7" />
<line x1="528.30" y1="315.30" x2="530.30" y2="315.30" stroke="#2e2e2e" stroke-width="0.7" />
<line x1="528.30" y1="362.70" x2="530.30" y2="362.70" stroke="#2e2e2e" stroke-width="0.7" />
<rect x="527.3" y="340.2" width="4.00" height="22.50" fill="#df9c20" stroke="#2e2e2e" stroke-width="0.6"/>
<line x1="527.30" y1="351.45" x2="531.30" y2="351.45" stroke="#2e2e2e" stroke-width="0.5" />
<line x1="541.70" y1="306.00" x2="541.70" y2="327.50" stroke="#2e2e2e" stroke-width="0.7" />
<line x1="541.70" y1="342.70" x2="541.70" y2="354.40" stroke="#2e2e2e" stroke-width="0.7" />
<line x1="540.75" y1="306.00" x2="542.65" y2="306.00" stroke="#2e2e2e" stroke-width="0.7" />
<line x1="540.75" y1="354.40" x2="542.65" y2="354.40" stroke="#2e2e2e" stroke-width="0.7" />
<rect x="539.8" y="327.5" width="3.80" height="15.20" fill="#107010" stroke="#2e2e2e" stroke-width="0.6"/>
<line x1="539.80" y1="335.10" x2="543.60" y2="335.10" stroke="#2e2e2e" stroke-width="0.5" />
<line x1="545.60" y1="326.80" x2="545.60" y2="329.20" stroke="#2e2e2e" stroke-width="0.7" />
<line x1="545.60" y1="345.10" x2="545.60" y2="353.70" stroke="#2e2e2e" stroke-width="0.7" />
<line x1="544.60" y1="326.80" x2="546.60" y2="326.80" stroke="#2e2e2e" stroke-width="0.7" />
<line x1="544.60" y1="353.70" x2="546.60" y2="353.70" stroke="#2e2e2e" stroke-width="0.7" />
<rect x="543.6" y="329.2" width="4.00" height="15.90" fill="#df9c20" stroke="#2e2e2e" stroke-width="0.6"/>
<line x1="543.60" y1="337.15" x2="547.60" y2="337.15" stroke="#2e2e2e" stroke-width="0.5" />
<line x1="558.15" y1="304.80" x2="558.15" y2="321.90" stroke="#2e2e2e" stroke-width="0.7" />
<line x1="558.15" y1="346.40" x2="558.15" y2="358.60" stroke="#2e2e2e" stroke-width="0.7" />
<line x1="557.18" y1="304.80" x2="559.13" y2="304.80" stroke="#2e2e2e" stroke-width="0.7" />
<line x1="557.18" y1="358.60" x2="559.13" y2="358.60" stroke="#2e2e2e" stroke-width="0.7" />
<rect x="556.2" y="321.9" width="3.90" height="24.50" fill="#107010" stroke="#2e2e2e" stroke-width="0.6"/>
<line x1="556.20" y1="334.15" x2="560.10" y2="334.15" stroke="#2e2e2e" stroke-width="0.5" />
<line x1="562.05" y1="328.00" x2="562.05" y2="327.50" stroke="#2e2e2e" stroke-width="0.7" />
<line x1="562.05" y1="350.00" x2="562.05" y2="356.10" stroke="#2e2e2e" stroke-width="0.7" />
<line x1="560.97" y1="328.00" x2="563.12" y2="328.00" stroke="#2e2e2e" stroke-width="0.7" />
<line x1="560.97" y1="356.10" x2="563.12" y2="356.10" stroke="#2e2e2e" stroke-width="0.7" />
<rect x="559.9" y="327.5" width="4.30" height="22.50" fill="#df9c20" stroke="#2e2e2e" stroke-width="0.6"/>
<line x1="559.90" y1="338.75" x2="564.20" y2="338.75" stroke="#2e2e2e" stroke-width="0.5" />
<line x1="574.00" y1="342.70" x2="574.00" y2="343.50" stroke="#2e2e2e" stroke-width="0.7" />
<line x1="574.00" y1="353.00" x2="574.00" y2="357.40" stroke="#2e2e2e" stroke-width="0.7" />
<line x1="573.00" y1="342.70" x2="575.00" y2="342.70" stroke="#2e2e2e" stroke-width="0.7" />
<line x1="573.00" y1="357.40" x2="575.00" y2="357.40" stroke="#2e2e2e" stroke-width="0.7" />
<rect x="572.0" y="343.5" width="4.00" height="9.50" fill="#107010" stroke="#2e2e2e" stroke-width="0.6"/>
<line x1="572.00" y1="348.25" x2="576.00" y2="348.25" stroke="#2e2e2e" stroke-width="0.5" />
<line x1="578.00" y1="345.10" x2="578.00" y2="345.10" stroke="#2e2e2e" stroke-width="0.7" />
<line x1="578.00" y1="348.80" x2="578.00" y2="348.80" stroke="#2e2e2e" stroke-width="0.7" />
<line x1="577.00" y1="345.10" x2="579.00" y2="345.10" stroke="#2e2e2e" stroke-width="0.7" />
<line x1="577.00" y1="348.80" x2="579.00" y2="348.80" stroke="#2e2e2e" stroke-width="0.7" />
<rect x="576.0" y="345.1" width="4.00" height="3.70" fill="#df9c20" stroke="#2e2e2e" stroke-width="0.6"/>
<line x1="576.00" y1="346.95" x2="580.00" y2="346.95" stroke="#2e2e2e" stroke-width="0.5" />
<line x1="591.55" y1="277.40" x2="591.55" y2="311.60" stroke="#2e2e2e" stroke-width="0.7" />
<line x1="591.55" y1="343.90" x2="591.55" y2="363.50" stroke="#2e2e2e" stroke-width="0.7" />
<line x1="590.42" y1="277.40" x2="592.67" y2="277.40" stroke="#2e2e2e" stroke-width="0.7" />
<line x1="590.42" y1="363.50" x2="592.67" y2="363.50" stroke="#2e2e2e" stroke-width="0.7" />
<rect x="589.3" y="311.6" width="4.50" height="32.30" fill="#107010" stroke="#2e2e2e" stroke-width="0.6"/>
<line x1="589.30" y1="327.75" x2="593.80" y2="327.75" stroke="#2e2e2e" stroke-width="0.5" />
<line x1="595.75" y1="341.50" x2="595.75" y2="346.40" stroke="#2e2e2e" stroke-width="0.7" />
<line x1="595.75" y1="362.70" x2="595.75" y2="363.50" stroke="#2e2e2e" stroke-width="0.7" />
<line x1="594.67" y1="341.50" x2="596.83" y2="341.50" stroke="#2e2e2e" stroke-width="0.7" />
<line x1="594.67" y1="363.50" x2="596.83" y2="363.50" stroke="#2e2e2e" stroke-width="0.7" />
<rect x="593.6" y="346.4" width="4.30" height="16.30" fill="#df9c20" stroke="#2e2e2e" stroke-width="0.6"/>
<line x1="593.60" y1="354.55" x2="597.90" y2="354.55" stroke="#2e2e2e" stroke-width="0.5" />
<line x1="608.10" y1="281.10" x2="608.10" y2="284.00" stroke="#2e2e2e" stroke-width="0.7" />
<line x1="608.10" y1="287.50" x2="608.10" y2="291.30" stroke="#2e2e2e" stroke-width="0.7" />
<line x1="607.05" y1="281.10" x2="609.15" y2="281.10" stroke="#2e2e2e" stroke-width="0.7" />
<line x1="607.05" y1="291.30" x2="609.15" y2="291.30" stroke="#2e2e2e" stroke-width="0.7" />
<rect x="606.0" y="284.0" width="4.20" height="3.50" fill="#107010" stroke="#2e2e2e" stroke-width="0.6"/>
<line x1="606.00" y1="285.75" x2="610.20" y2="285.75" stroke="#2e2e2e" stroke-width="0.5" />
<line x1="624.50" y1="335.80" x2="624.50" y2="336.60" stroke="#2e2e2e" stroke-width="0.7" />
<line x1="624.50" y1="363.30" x2="624.50" y2="363.30" stroke="#2e2e2e" stroke-width="0.7" />
<line x1="623.45" y1="335.80" x2="625.55" y2="335.80" stroke="#2e2e2e" stroke-width="0.7" />
<line x1="623.45" y1="363.30" x2="625.55" y2="363.30" stroke="#2e2e2e" stroke-width="0.7" />
<rect x="622.4" y="336.6" width="4.20" height="26.70" fill="#107010" stroke="#2e2e2e" stroke-width="0.6"/>
<line x1="622.40" y1="349.95" x2="626.60" y2="349.95" stroke="#2e2e2e" stroke-width="0.5" />
<line x1="641.15" y1="298.70" x2="641.15" y2="326.80" stroke="#2e2e2e" stroke-width="0.7" />
<line x1="641.15" y1="357.40" x2="641.15" y2="363.50" stroke="#2e2e2e" stroke-width="0.7" />
<line x1="639.97" y1="298.70" x2="642.33" y2="298.70" stroke="#2e2e2e" stroke-width="0.7" />
<line x1="639.97" y1="363.50" x2="642.33" y2="363.50" stroke="#2e2e2e" stroke-width="0.7" />
<rect x="638.8" y="326.8" width="4.70" height="30.60" fill="#107010" stroke="#2e2e2e" stroke-width="0.6"/>
<line x1="638.80" y1="342.10" x2="643.50" y2="342.10" stroke="#2e2e2e" stroke-width="0.5" />
<line x1="657.95" y1="325.10" x2="657.95" y2="332.90" stroke="#2e2e2e" stroke-width="0.7" />
<line x1="657.95" y1="346.40" x2="657.95" y2="346.40" stroke="#2e2e2e" stroke-width="0.7" />
<line x1="656.93" y1="325.10" x2="658.98" y2="325.10" stroke="#2e2e2e" stroke-width="0.7" />
<line x1="656.93" y1="346.40" x2="658.98" y2="346.40" stroke="#2e2e2e" stroke-width="0.7" />
<rect x="655.9" y="332.9" width="4.10" height="13.50" fill="#107010" stroke="#2e2e2e" stroke-width="0.6"/>
<line x1="655.90" y1="339.65" x2="660.00" y2="339.65" stroke="#2e2e2e" stroke-width="0.5" />
<line x1="661.80" y1="330.00" x2="661.80" y2="342.70" stroke="#2e2e2e" stroke-width="0.7" />
<line x1="661.80" y1="359.30" x2="661.80" y2="363.00" stroke="#2e2e2e" stroke-width="0.7" />
<line x1="660.70" y1="330.00" x2="662.90" y2="330.00" stroke="#2e2e2e" stroke-width="0.7" />
<line x1="660.70" y1="363.00" x2="662.90" y2="363.00" stroke="#2e2e2e" stroke-width="0.7" />
<rect x="659.6" y="342.7" width="4.40" height="16.60" fill="#df9c20" stroke="#2e2e2e" stroke-width="0.6"/>
<line x1="659.60" y1="351.00" x2="664.00" y2="351.00" stroke="#2e2e2e" stroke-width="0.5" />
<circle cx="479.50" cy="354.00" r="2.25" fill="#ffa500" fill-opacity="0.75" stroke="#1a1a1a" stroke-width="0.75"/>
<circle cx="480.10" cy="358.30" r="2.25" fill="#ffa500" fill-opacity="0.75" stroke="#1a1a1a" stroke-width="0.75"/>
<circle cx="476.70" cy="362.00" r="2.25" fill="#ffa500" fill-opacity="0.75" stroke="#1a1a1a" stroke-width="0.75"/>
<circle cx="478.30" cy="361.00" r="2.25" fill="#ffa500" fill-opacity="0.75" stroke="#1a1a1a" stroke-width="0.75"/>
<circle cx="497.20" cy="336.60" r="2.25" fill="#ffa500" fill-opacity="0.75" stroke="#1a1a1a" stroke-width="0.75"/>
<circle cx="514.30" cy="284.40" r="2.25" fill="#ffa500" fill-opacity="0.75" stroke="#1a1a1a" stroke-width="0.75"/>
<circle cx="514.30" cy="303.40" r="2.25" fill="#ffa500" fill-opacity="0.75" stroke="#1a1a1a" stroke-width="0.75"/>
<circle cx="515.10" cy="306.80" r="2.25" fill="#ffa500" fill-opacity="0.75" stroke="#1a1a1a" stroke-width="0.75"/>
<circle cx="512.00" cy="309.80" r="2.25" fill="#ffa500" fill-opacity="0.75" stroke="#1a1a1a" stroke-width="0.75"/>
<circle cx="512.70" cy="312.60" r="2.25" fill="#ffa500" fill-opacity="0.75" stroke="#1a1a1a" stroke-width="0.75"/>
<circle cx="512.30" cy="319.40" r="2.25" fill="#ffa500" fill-opacity="0.75" stroke="#1a1a1a" stroke-width="0.75"/>
<circle cx="515.10" cy="324.00" r="2.25" fill="#ffa500" fill-opacity="0.75" stroke="#1a1a1a" stroke-width="0.75"/>
<circle cx="526.80" cy="313.30" r="2.25" fill="#ffa500" fill-opacity="0.75" stroke="#1a1a1a" stroke-width="0.75"/>
<circle cx="531.20" cy="315.30" r="2.25" fill="#ffa500" fill-opacity="0.75" stroke="#1a1a1a" stroke-width="0.75"/>
<circle cx="528.80" cy="341.00" r="2.25" fill="#ffa500" fill-opacity="0.75" stroke="#1a1a1a" stroke-width="0.75"/>
<circle cx="527.60" cy="346.40" r="2.25" fill="#ffa500" fill-opacity="0.75" stroke="#1a1a1a" stroke-width="0.75"/>
<circle cx="530.00" cy="356.90" r="2.25" fill="#ffa500" fill-opacity="0.75" stroke="#1a1a1a" stroke-width="0.75"/>
<circle cx="528.30" cy="362.70" r="2.25" fill="#ffa500" fill-opacity="0.75" stroke="#1a1a1a" stroke-width="0.75"/>
<circle cx="531.20" cy="362.70" r="2.25" fill="#ffa500" fill-opacity="0.75" stroke="#1a1a1a" stroke-width="0.75"/>
<circle cx="548.30" cy="326.80" r="2.25" fill="#ffa500" fill-opacity="0.75" stroke="#1a1a1a" stroke-width="0.75"/>
<circle cx="545.90" cy="332.90" r="2.25" fill="#ffa500" fill-opacity="0.75" stroke="#1a1a1a" stroke-width="0.75"/>
<circle cx="547.10" cy="342.70" r="2.25" fill="#ffa500" fill-opacity="0.75" stroke="#1a1a1a" stroke-width="0.75"/>
<circle cx="543.00" cy="353.70" r="2.25" fill="#ffa500" fill-opacity="0.75" stroke="#1a1a1a" stroke-width="0.75"/>
<circle cx="544.70" cy="348.80" r="2.25" fill="#ffa500" fill-opacity="0.75" stroke="#1a1a1a" stroke-width="0.75"/>
<circle cx="562.50" cy="282.80" r="2.25" fill="#ffa500" fill-opacity="0.75" stroke="#1a1a1a" stroke-width="0.75"/>
<circle cx="561.80" cy="328.00" r="2.25" fill="#ffa500" fill-opacity="0.75" stroke="#1a1a1a" stroke-width="0.75"/>
<circle cx="563.70" cy="340.20" r="2.25" fill="#ffa500" fill-opacity="0.75" stroke="#1a1a1a" stroke-width="0.75"/>
<circle cx="563.00" cy="356.10" r="2.25" fill="#ffa500" fill-opacity="0.75" stroke="#1a1a1a" stroke-width="0.75"/>
<circle cx="565.00" cy="356.10" r="2.25" fill="#ffa500" fill-opacity="0.75" stroke="#1a1a1a" stroke-width="0.75"/>
<circle cx="580.00" cy="345.10" r="2.25" fill="#ffa500" fill-opacity="0.75" stroke="#1a1a1a" stroke-width="0.75"/>
<circle cx="581.70" cy="348.80" r="2.25" fill="#ffa500" fill-opacity="0.75" stroke="#1a1a1a" stroke-width="0.75"/>
<circle cx="597.10" cy="341.50" r="2.25" fill="#ffa500" fill-opacity="0.75" stroke="#1a1a1a" stroke-width="0.75"/>
<circle cx="595.40" cy="350.00" r="2.25" fill="#ffa500" fill-opacity="0.75" stroke="#1a1a1a" stroke-width="0.75"/>
<circle cx="595.90" cy="353.70" r="2.25" fill="#ffa500" fill-opacity="0.75" stroke="#1a1a1a" stroke-width="0.75"/>
<circle cx="596.40" cy="358.60" r="2.25" fill="#ffa500" fill-opacity="0.75" stroke="#1a1a1a" stroke-width="0.75"/>
<circle cx="595.40" cy="363.50" r="2.25" fill="#ffa500" fill-opacity="0.75" stroke="#1a1a1a" stroke-width="0.75"/>
<circle cx="614.20" cy="284.50" r="2.25" fill="#ffa500" fill-opacity="0.75" stroke="#1a1a1a" stroke-width="0.75"/>
<circle cx="628.50" cy="312.90" r="2.25" fill="#ffa500" fill-opacity="0.75" stroke="#1a1a1a" stroke-width="0.75"/>
<circle cx="646.10" cy="359.30" r="2.25" fill="#ffa500" fill-opacity="0.75" stroke="#1a1a1a" stroke-width="0.75"/>
<circle cx="659.10" cy="330.00" r="2.25" fill="#ffa500" fill-opacity="0.75" stroke="#1a1a1a" stroke-width="0.75"/>
<circle cx="660.00" cy="353.70" r="2.25" fill="#ffa500" fill-opacity="0.75" stroke="#1a1a1a" stroke-width="0.75"/>
<circle cx="661.50" cy="355.40" r="2.25" fill="#ffa500" fill-opacity="0.75" stroke="#1a1a1a" stroke-width="0.75"/>
<circle cx="662.00" cy="363.00" r="2.25" fill="#ffa500" fill-opacity="0.75" stroke="#1a1a1a" stroke-width="0.75"/>
<circle cx="680.30" cy="363.00" r="2.25" fill="#ffa500" fill-opacity="0.75" stroke="#1a1a1a" stroke-width="0.75"/>
<circle cx="477.50" cy="310.50" r="2.25" fill="#008000" fill-opacity="0.75" stroke="#1a1a1a" stroke-width="0.75"/>
<circle cx="476.00" cy="330.10" r="2.25" fill="#008000" fill-opacity="0.75" stroke="#1a1a1a" stroke-width="0.75"/>
<circle cx="473.90" cy="335.50" r="2.25" fill="#008000" fill-opacity="0.75" stroke="#1a1a1a" stroke-width="0.75"/>
<circle cx="479.00" cy="335.50" r="2.25" fill="#008000" fill-opacity="0.75" stroke="#1a1a1a" stroke-width="0.75"/>
<circle cx="476.00" cy="333.20" r="2.25" fill="#008000" fill-opacity="0.75" stroke="#1a1a1a" stroke-width="0.75"/>
<circle cx="473.60" cy="343.20" r="2.25" fill="#008000" fill-opacity="0.75" stroke="#1a1a1a" stroke-width="0.75"/>
<circle cx="474.90" cy="344.80" r="2.25" fill="#008000" fill-opacity="0.75" stroke="#1a1a1a" stroke-width="0.75"/>
<circle cx="489.80" cy="280.90" r="2.25" fill="#008000" fill-opacity="0.75" stroke="#1a1a1a" stroke-width="0.75"/>
<circle cx="489.80" cy="323.10" r="2.25" fill="#008000" fill-opacity="0.75" stroke="#1a1a1a" stroke-width="0.75"/>
<circle cx="491.40" cy="332.40" r="2.25" fill="#008000" fill-opacity="0.75" stroke="#1a1a1a" stroke-width="0.75"/>
<circle cx="493.70" cy="336.30" r="2.25" fill="#008000" fill-opacity="0.75" stroke="#1a1a1a" stroke-width="0.75"/>
<circle cx="492.10" cy="346.00" r="2.25" fill="#008000" fill-opacity="0.75" stroke="#1a1a1a" stroke-width="0.75"/>
<circle cx="496.00" cy="358.30" r="2.25" fill="#008000" fill-opacity="0.75" stroke="#1a1a1a" stroke-width="0.75"/>
<circle cx="507.70" cy="284.10" r="2.25" fill="#008000" fill-opacity="0.75" stroke="#1a1a1a" stroke-width="0.75"/>
<circle cx="506.10" cy="287.90" r="2.25" fill="#008000" fill-opacity="0.75" stroke="#1a1a1a" stroke-width="0.75"/>
<circle cx="506.60" cy="317.10" r="2.25" fill="#008000" fill-opacity="0.75" stroke="#1a1a1a" stroke-width="0.75"/>
<circle cx="524.40" cy="328.00" r="2.25" fill="#008000" fill-opacity="0.75" stroke="#1a1a1a" stroke-width="0.75"/>
<circle cx="523.40" cy="339.70" r="2.25" fill="#008000" fill-opacity="0.75" stroke="#1a1a1a" stroke-width="0.75"/>
<circle cx="528.80" cy="354.40" r="2.25" fill="#008000" fill-opacity="0.75" stroke="#1a1a1a" stroke-width="0.75"/>
<circle cx="525.10" cy="362.20" r="2.25" fill="#008000" fill-opacity="0.75" stroke="#1a1a1a" stroke-width="0.75"/>
<circle cx="543.40" cy="306.00" r="2.25" fill="#008000" fill-opacity="0.75" stroke="#1a1a1a" stroke-width="0.75"/>
<circle cx="542.20" cy="314.60" r="2.25" fill="#008000" fill-opacity="0.75" stroke="#1a1a1a" stroke-width="0.75"/>
<circle cx="540.50" cy="328.00" r="2.25" fill="#008000" fill-opacity="0.75" stroke="#1a1a1a" stroke-width="0.75"/>
<circle cx="541.50" cy="334.10" r="2.25" fill="#008000" fill-opacity="0.75" stroke="#1a1a1a" stroke-width="0.75"/>
<circle cx="539.80" cy="342.70" r="2.25" fill="#008000" fill-opacity="0.75" stroke="#1a1a1a" stroke-width="0.75"/>
<circle cx="542.70" cy="346.40" r="2.25" fill="#008000" fill-opacity="0.75" stroke="#1a1a1a" stroke-width="0.75"/>
<circle cx="539.80" cy="354.40" r="2.25" fill="#008000" fill-opacity="0.75" stroke="#1a1a1a" stroke-width="0.75"/>
<circle cx="561.80" cy="304.80" r="2.25" fill="#008000" fill-opacity="0.75" stroke="#1a1a1a" stroke-width="0.75"/>
<circle cx="558.10" cy="309.70" r="2.25" fill="#008000" fill-opacity="0.75" stroke="#1a1a1a" stroke-width="0.75"/>
<circle cx="560.10" cy="321.90" r="2.25" fill="#008000" fill-opacity="0.75" stroke="#1a1a1a" stroke-width="0.75"/>
<circle cx="557.40" cy="331.70" r="2.25" fill="#008000" fill-opacity="0.75" stroke="#1a1a1a" stroke-width="0.75"/>
<circle cx="560.10" cy="347.60" r="2.25" fill="#008000" fill-opacity="0.75" stroke="#1a1a1a" stroke-width="0.75"/>
<circle cx="558.10" cy="358.60" r="2.25" fill="#008000" fill-opacity="0.75" stroke="#1a1a1a" stroke-width="0.75"/>
<circle cx="575.10" cy="342.70" r="2.25" fill="#008000" fill-opacity="0.75" stroke="#1a1a1a" stroke-width="0.75"/>
<circle cx="577.60" cy="343.90" r="2.25" fill="#008000" fill-opacity="0.75" stroke="#1a1a1a" stroke-width="0.75"/>
<circle cx="573.90" cy="346.40" r="2.25" fill="#008000" fill-opacity="0.75" stroke="#1a1a1a" stroke-width="0.75"/>
<circle cx="572.70" cy="348.80" r="2.25" fill="#008000" fill-opacity="0.75" stroke="#1a1a1a" stroke-width="0.75"/>
<circle cx="576.30" cy="350.00" r="2.25" fill="#008000" fill-opacity="0.75" stroke="#1a1a1a" stroke-width="0.75"/>
<circle cx="575.10" cy="352.50" r="2.25" fill="#008000" fill-opacity="0.75" stroke="#1a1a1a" stroke-width="0.75"/>
<circle cx="578.30" cy="353.70" r="2.25" fill="#008000" fill-opacity="0.75" stroke="#1a1a1a" stroke-width="0.75"/>
<circle cx="572.70" cy="356.10" r="2.25" fill="#008000" fill-opacity="0.75" stroke="#1a1a1a" stroke-width="0.75"/>
<circle cx="576.30" cy="357.40" r="2.25" fill="#008000" fill-opacity="0.75" stroke="#1a1a1a" stroke-width="0.75"/>
<circle cx="588.60" cy="278.60" r="2.25" fill="#008000" fill-opacity="0.75" stroke="#1a1a1a" stroke-width="0.75"/>
<circle cx="592.20" cy="277.40" r="2.25" fill="#008000" fill-opacity="0.75" stroke="#1a1a1a" stroke-width="0.75"/>
<circle cx="594.70" cy="321.90" r="2.25" fill="#008000" fill-opacity="0.75" stroke="#1a1a1a" stroke-width="0.75"/>
<circle cx="591.00" cy="326.10" r="2.25" fill="#008000" fill-opacity="0.75" stroke="#1a1a1a" stroke-width="0.75"/>
<circle cx="592.20" cy="339.00" r="2.25" fill="#008000" fill-opacity="0.75" stroke="#1a1a1a" stroke-width="0.75"/>
<circle cx="589.80" cy="342.70" r="2.25" fill="#008000" fill-opacity="0.75" stroke="#1a1a1a" stroke-width="0.75"/>
<circle cx="591.50" cy="363.50" r="2.25" fill="#008000" fill-opacity="0.75" stroke="#1a1a1a" stroke-width="0.75"/>
<circle cx="610.60" cy="281.10" r="2.25" fill="#008000" fill-opacity="0.75" stroke="#1a1a1a" stroke-width="0.75"/>
<circle cx="608.10" cy="285.20" r="2.25" fill="#008000" fill-opacity="0.75" stroke="#1a1a1a" stroke-width="0.75"/>
<circle cx="611.80" cy="286.00" r="2.25" fill="#008000" fill-opacity="0.75" stroke="#1a1a1a" stroke-width="0.75"/>
<circle cx="611.10" cy="291.30" r="2.25" fill="#008000" fill-opacity="0.75" stroke="#1a1a1a" stroke-width="0.75"/>
<circle cx="627.30" cy="268.80" r="2.25" fill="#008000" fill-opacity="0.75" stroke="#1a1a1a" stroke-width="0.75"/>
<circle cx="623.40" cy="335.80" r="2.25" fill="#008000" fill-opacity="0.75" stroke="#1a1a1a" stroke-width="0.75"/>
<circle cx="623.40" cy="345.10" r="2.25" fill="#008000" fill-opacity="0.75" stroke="#1a1a1a" stroke-width="0.75"/>
<circle cx="624.10" cy="353.70" r="2.25" fill="#008000" fill-opacity="0.75" stroke="#1a1a1a" stroke-width="0.75"/>
<circle cx="624.10" cy="363.00" r="2.25" fill="#008000" fill-opacity="0.75" stroke="#1a1a1a" stroke-width="0.75"/>
<circle cx="627.80" cy="363.00" r="2.25" fill="#008000" fill-opacity="0.75" stroke="#1a1a1a" stroke-width="0.75"/>
<circle cx="640.70" cy="298.70" r="2.25" fill="#008000" fill-opacity="0.75" stroke="#1a1a1a" stroke-width="0.75"/>
<circle cx="640.00" cy="306.00" r="2.25" fill="#008000" fill-opacity="0.75" stroke="#1a1a1a" stroke-width="0.75"/>
<circle cx="641.20" cy="308.00" r="2.25" fill="#008000" fill-opacity="0.75" stroke="#1a1a1a" stroke-width="0.75"/>
<circle cx="639.50" cy="326.80" r="2.25" fill="#008000" fill-opacity="0.75" stroke="#1a1a1a" stroke-width="0.75"/>
<circle cx="642.40" cy="326.80" r="2.25" fill="#008000" fill-opacity="0.75" stroke="#1a1a1a" stroke-width="0.75"/>
<circle cx="639.50" cy="334.10" r="2.25" fill="#008000" fill-opacity="0.75" stroke="#1a1a1a" stroke-width="0.75"/>
<circle cx="642.40" cy="343.90" r="2.25" fill="#008000" fill-opacity="0.75" stroke="#1a1a1a" stroke-width="0.75"/>
<circle cx="638.80" cy="347.60" r="2.25" fill="#008000" fill-opacity="0.75" stroke="#1a1a1a" stroke-width="0.75"/>
<circle cx="642.00" cy="350.00" r="2.25" fill="#008000" fill-opacity="0.75" stroke="#1a1a1a" stroke-width="0.75"/>
<circle cx="639.50" cy="354.40" r="2.25" fill="#008000" fill-opacity="0.75" stroke="#1a1a1a" stroke-width="0.75"/>
<circle cx="642.40" cy="354.40" r="2.25" fill="#008000" fill-opacity="0.75" stroke="#1a1a1a" stroke-width="0.75"/>
<circle cx="641.20" cy="363.50" r="2.25" fill="#008000" fill-opacity="0.75" stroke="#1a1a1a" stroke-width="0.75"/>
<circle cx="661.50" cy="325.10" r="2.25" fill="#008000" fill-opacity="0.75" stroke="#1a1a1a" stroke-width="0.75"/>
<circle cx="658.30" cy="327.50" r="2.25" fill="#008000" fill-opacity="0.75" stroke="#1a1a1a" stroke-width="0.75"/>
<circle cx="673.70" cy="313.30" r="2.25" fill="#008000" fill-opacity="0.75" stroke="#1a1a1a" stroke-width="0.75"/>
<rect x="469.7" y="263.6" width="214.90000000000003" height="104.69999999999999" fill="none" stroke="#959595" stroke-width="0.8"/>
<line x1="466.40" y1="363.00" x2="469.70" y2="363.00" stroke="#959595" stroke-width="0.8" />
<text x="461.80" y="365.40" font-size="6.7" text-anchor="end" fill="#000" >0</text>
<line x1="466.40" y1="339.70" x2="469.70" y2="339.70" stroke="#959595" stroke-width="0.8" />
<text x="461.80" y="342.10" font-size="6.7" text-anchor="end" fill="#000" >0.2</text>
<line x1="466.40" y1="316.40" x2="469.70" y2="316.40" stroke="#959595" stroke-width="0.8" />
<text x="461.80" y="318.80" font-size="6.7" text-anchor="end" fill="#000" >0.4</text>
<line x1="466.40" y1="293.10" x2="469.70" y2="293.10" stroke="#959595" stroke-width="0.8" />
<text x="461.80" y="295.50" font-size="6.7" text-anchor="end" fill="#000" >0.6</text>
<line x1="466.40" y1="269.80" x2="469.70" y2="269.80" stroke="#959595" stroke-width="0.8" />
<text x="461.80" y="272.20" font-size="6.7" text-anchor="end" fill="#000" >0.8</text>
<text transform="translate(442.4,315.8) rotate(-90)" font-size="6.7" text-anchor="middle">Strain engraftment rate</text>
<text x="682.0" y="272.2" font-size="6.7" text-anchor="end"><tspan font-style="italic">P</tspan> = 0.017</text>
<path d="M591.4,273.0V270.5H599.8V273.0" fill="none" stroke="#000" stroke-width="0.7"/>
<text x="595.90" y="271.30" font-size="8.5" text-anchor="middle" fill="#000" >*</text>
<line x1="477.97" y1="368.30" x2="477.97" y2="371.30" stroke="#959595" stroke-width="0.8" />
<text transform="translate(481.67,380.20) rotate(-45)" font-size="6.6" text-anchor="end">AggarwalaV_2021 (<tspan font-style="italic">n</tspan> =10)</text>
<line x1="494.50" y1="368.30" x2="494.50" y2="371.30" stroke="#959595" stroke-width="0.8" />
<text transform="translate(498.20,380.20) rotate(-45)" font-size="6.6" text-anchor="end">BarYosephH_2020 (<tspan font-style="italic">n</tspan> = 7)</text>
<line x1="511.03" y1="368.30" x2="511.03" y2="371.30" stroke="#959595" stroke-width="0.8" />
<text transform="translate(514.73,380.20) rotate(-45)" font-size="6.6" text-anchor="end">BaruchE_2020 (<tspan font-style="italic">n</tspan> = 10)</text>
<line x1="527.56" y1="368.30" x2="527.56" y2="371.30" stroke="#959595" stroke-width="0.8" />
<text transform="translate(531.26,380.20) rotate(-45)" font-size="6.6" text-anchor="end">DavarD_2021 (<tspan font-style="italic">n</tspan> = 14)</text>
<line x1="544.09" y1="368.30" x2="544.09" y2="371.30" stroke="#959595" stroke-width="0.8" />
<text transform="translate(547.79,380.20) rotate(-45)" font-size="6.6" text-anchor="end">GollR_2020 (<tspan font-style="italic">n</tspan> = 20)</text>
<line x1="560.62" y1="368.30" x2="560.62" y2="371.30" stroke="#959595" stroke-width="0.8" />
<text transform="translate(564.32,380.20) rotate(-45)" font-size="6.6" text-anchor="end">SmillieC_2018 (<tspan font-style="italic">n</tspan> = 16)</text>
<line x1="577.15" y1="368.30" x2="577.15" y2="371.30" stroke="#959595" stroke-width="0.8" />
<text transform="translate(580.85,380.20) rotate(-45)" font-size="6.6" text-anchor="end">SuskindD_2015 (<tspan font-style="italic">n</tspan> = 9)</text>
<line x1="593.68" y1="368.30" x2="593.68" y2="371.30" stroke="#959595" stroke-width="0.8" />
<text transform="translate(597.38,380.20) rotate(-45)" font-size="6.6" text-anchor="end">VaughnB_2016 (<tspan font-style="italic">n</tspan> = 14)</text>
<line x1="610.21" y1="368.30" x2="610.21" y2="371.30" stroke="#959595" stroke-width="0.8" />
<text transform="translate(613.91,380.20) rotate(-45)" font-size="6.6" text-anchor="end">ZhaoH_2020 (<tspan font-style="italic">n</tspan> = 5)</text>
<line x1="626.74" y1="368.30" x2="626.74" y2="371.30" stroke="#959595" stroke-width="0.8" />
<text transform="translate(630.44,380.20) rotate(-45)" font-size="6.6" text-anchor="end">IaniroG_2020 (<tspan font-style="italic">n</tspan> = 6)</text>
<line x1="643.27" y1="368.30" x2="643.27" y2="371.30" stroke="#959595" stroke-width="0.8" />
<text transform="translate(646.97,380.20) rotate(-45)" font-size="6.6" text-anchor="end">This_study_Cdiff (<tspan font-style="italic">n</tspan> = 16)</text>
<line x1="659.80" y1="368.30" x2="659.80" y2="371.30" stroke="#959595" stroke-width="0.8" />
<text transform="translate(663.50,380.20) rotate(-45)" font-size="6.6" text-anchor="end">This_study_MDRB (<tspan font-style="italic">n</tspan> = 5)</text>
<line x1="676.33" y1="368.30" x2="676.33" y2="371.30" stroke="#959595" stroke-width="0.8" />
<text transform="translate(680.03,380.20) rotate(-45)" font-size="6.6" text-anchor="end">This_study_IBD (<tspan font-style="italic">n</tspan> = 2)</text>
</svg>
</body></html>
